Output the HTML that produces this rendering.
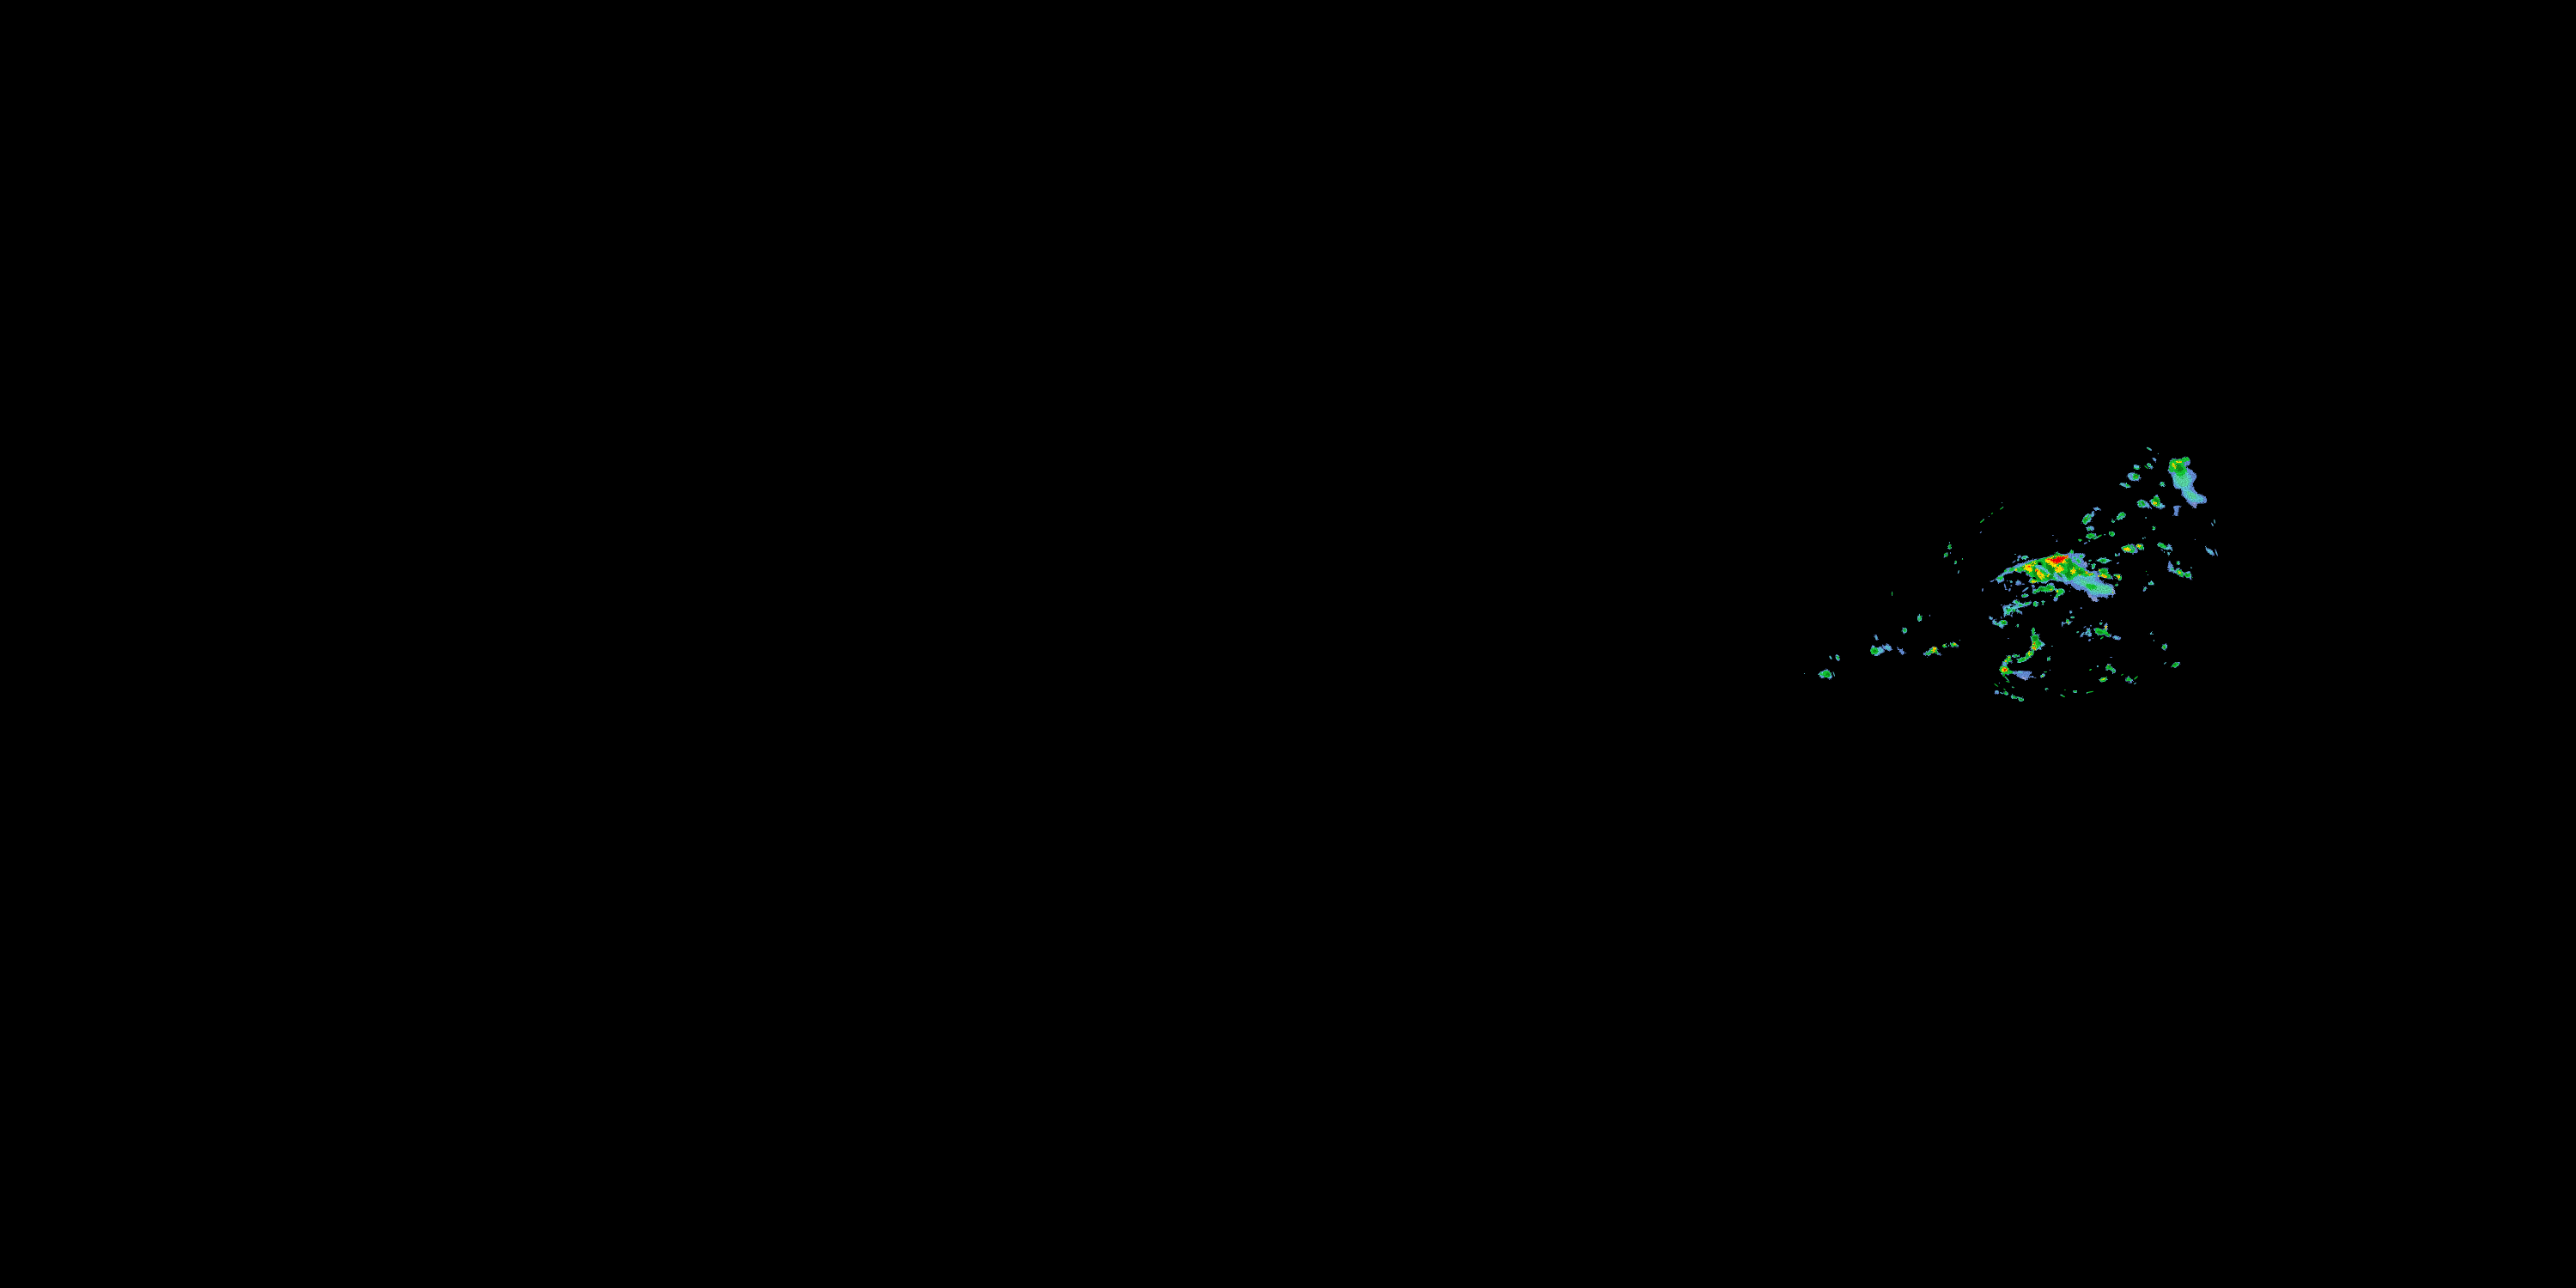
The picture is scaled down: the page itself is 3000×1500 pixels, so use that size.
<!DOCTYPE html>
<html><head><meta charset="utf-8"><title>Radar mosaic</title>
<style>
html,body{margin:0;padding:0;background:#000;width:3000px;height:1500px;overflow:hidden;font-family:"Liberation Sans",sans-serif;}
svg{display:block;position:absolute;left:0;top:0;}
</style></head><body>
<svg width="3000" height="1500" viewBox="0 0 3000 1500">
<defs>
<filter id="s" filterUnits="userSpaceOnUse" x="2070" y="495" width="560" height="345" color-interpolation-filters="sRGB">
<feTurbulence type="fractalNoise" baseFrequency="0.55" numOctaves="2" seed="7" result="n"/>
<feDisplacementMap in="SourceGraphic" in2="n" scale="3.2" xChannelSelector="R" yChannelSelector="G" result="d"/>
<feGaussianBlur in="d" stdDeviation="0.4"/>
</filter>
<filter id="t" filterUnits="userSpaceOnUse" x="2070" y="495" width="560" height="345" color-interpolation-filters="sRGB">
<feTurbulence type="fractalNoise" baseFrequency="0.7" numOctaves="2" seed="23" result="n"/>
<feDisplacementMap in="SourceGraphic" in2="n" scale="4.6" xChannelSelector="G" yChannelSelector="B" result="d"/>
<feGaussianBlur in="d" stdDeviation="0.4"/>
</filter>
<filter id="b" filterUnits="userSpaceOnUse" x="2070" y="495" width="560" height="345"><feGaussianBlur stdDeviation="0.3"/></filter>
<filter id="grain" filterUnits="userSpaceOnUse" x="2070" y="495" width="560" height="345" color-interpolation-filters="sRGB">
<feTurbulence type="fractalNoise" baseFrequency="0.8" numOctaves="1" seed="5" result="n"/>
<feColorMatrix in="n" type="matrix" values="0 1.6 0 0 -0.3  0 1.6 0 0 -0.3  0 1.6 0 0 -0.3  0 0 0 0 1" result="m"/>
<feComposite in="SourceGraphic" in2="m" operator="arithmetic" k1="0.5" k2="0.75" k3="0" k4="0"/>
</filter>
</defs>
<rect width="3000" height="1500" fill="#000"/>
<g filter="url(#grain)">
<g filter="url(#s)">
<path fill="#5f86cc" d="M2526.1 539.2C2526.6 538.1 2528.3 534.9 2530.1 534.2C2531.9 533.5 2535.1 535.0 2537.0 534.8C2538.8 534.7 2539.6 533.8 2541.3 533.3C2543.0 532.8 2545.6 531.2 2547.2 531.7C2548.8 532.3 2550.6 535.1 2550.9 536.7C2551.3 538.4 2550.4 540.6 2549.4 541.7C2548.4 542.7 2544.6 542.0 2545.0 542.9C2545.4 543.9 2549.7 545.5 2551.9 547.3C2554.0 549.0 2557.2 551.6 2558.1 553.5C2558.9 555.3 2557.6 556.9 2556.8 558.4C2556.1 560.0 2553.9 561.0 2553.7 562.8C2553.5 564.6 2554.7 567.1 2555.6 569.0C2556.5 570.9 2557.2 572.4 2559.3 574.0C2561.4 575.5 2566.2 576.9 2568.0 578.3C2569.8 579.8 2570.2 581.4 2570.2 582.7C2570.2 584.0 2569.8 585.5 2568.0 586.2C2566.2 586.9 2561.0 586.1 2559.3 586.8C2557.7 587.6 2558.6 589.7 2558.1 590.6C2557.6 591.4 2557.2 592.1 2556.2 591.8C2555.2 591.5 2553.4 589.8 2551.9 588.7C2550.3 587.6 2547.9 586.1 2546.9 585.0C2545.9 583.8 2546.9 583.2 2546.0 581.9C2545.0 580.5 2542.2 578.9 2541.3 577.1C2540.4 575.2 2541.1 572.1 2540.4 570.9C2539.6 569.6 2538.3 570.1 2537.0 569.6C2535.7 569.1 2533.6 568.9 2532.6 567.8C2531.6 566.6 2531.2 564.8 2530.7 562.8C2530.3 560.8 2531.2 558.3 2530.1 556.0C2529.1 553.6 2525.2 550.4 2524.5 548.5C2523.9 546.6 2526.3 545.5 2526.4 544.8C2526.5 544.1 2525.1 544.8 2525.2 544.2C2525.3 543.5 2526.9 541.9 2527.0 541.1C2527.2 540.2 2525.6 540.3 2526.1 539.2Z"/>
<path fill="#56bac8" d="M2531.1 552.9C2532.5 551.0 2537.3 550.9 2540.1 550.4C2542.8 549.9 2545.4 548.6 2547.5 549.8C2549.6 550.9 2551.9 554.9 2552.5 557.2C2553.1 559.5 2551.7 561.4 2551.2 563.4C2550.8 565.4 2549.2 567.1 2550.0 569.0C2550.8 570.9 2553.8 572.9 2556.2 574.6C2558.6 576.3 2562.6 577.6 2564.3 578.9C2565.9 580.3 2567.1 581.6 2566.1 582.7C2565.2 583.7 2561.1 584.9 2558.7 585.2C2556.3 585.4 2554.3 585.2 2551.9 583.9C2549.4 582.6 2545.5 579.6 2543.8 577.4C2542.1 575.2 2543.5 572.4 2541.8 570.6C2540.1 568.7 2535.6 567.9 2533.9 566.4C2532.1 564.9 2532.0 563.8 2531.5 561.6C2531.0 559.3 2529.6 554.7 2531.1 552.9Z"/>
<path fill="#54cc9c" d="M2533.9 553.5C2535.2 551.7 2541.9 551.4 2544.4 552.2C2546.9 553.1 2548.2 556.3 2548.8 558.4C2549.3 560.6 2548.7 563.9 2547.5 565.3C2546.4 566.7 2543.8 567.2 2541.9 566.8C2540.1 566.4 2537.7 565.0 2536.3 562.8C2535.0 560.6 2532.5 555.2 2533.9 553.5Z"/>
<path fill="#3cc878" d="M2536.3 552.9C2536.9 551.9 2541.0 551.4 2542.5 551.7C2544.0 552.0 2545.2 553.7 2545.3 554.7C2545.4 555.7 2544.2 557.4 2543.2 557.8C2542.2 558.2 2540.6 558.0 2539.4 557.2C2538.3 556.4 2535.8 553.8 2536.3 552.9Z"/>
<path fill="#54cc9c" d="M2546.9 572.1C2547.5 571.4 2551.2 573.6 2553.1 574.6C2555.0 575.6 2557.7 577.2 2558.1 578.3C2558.5 579.5 2557.0 581.3 2555.6 581.4C2554.1 581.5 2550.8 580.5 2549.4 578.9C2547.9 577.4 2546.3 572.8 2546.9 572.1Z"/>
<path fill="#12c030" d="M2526.4 539.2C2527.0 538.0 2529.0 535.5 2530.7 534.8C2532.5 534.2 2535.1 535.7 2537.0 535.5C2538.8 535.3 2540.3 534.1 2541.9 533.6C2543.6 533.1 2545.5 531.9 2546.9 532.4C2548.2 532.8 2550.2 535.3 2550.0 536.1C2549.8 536.9 2546.8 536.6 2545.7 537.3C2544.5 538.1 2543.2 539.2 2543.2 540.4C2543.2 541.7 2545.0 543.4 2545.7 544.8C2546.3 546.1 2547.3 547.3 2546.9 548.5C2546.5 549.8 2544.5 551.2 2543.2 552.2C2541.8 553.3 2540.2 554.7 2538.8 554.7C2537.5 554.7 2536.1 553.1 2535.1 552.2C2534.1 551.4 2534.1 550.5 2532.6 549.8C2531.1 549.0 2527.2 548.8 2526.1 548.0C2525.0 547.2 2526.0 545.7 2526.1 544.8C2526.3 543.8 2527.0 543.2 2527.0 542.3C2527.1 541.4 2525.8 540.4 2526.4 539.2Z"/>
<ellipse fill="#7a88c4" cx="2555.6" cy="587.6" rx="2.8" ry="3.4" transform="rotate(-30 2555.6 587.6)"/>
<ellipse fill="#5f86cc" cx="2509.3" cy="535.3" rx="2.8" ry="1.6" transform="rotate(42 2509.3 535.3)"/>
<ellipse fill="#56bac8" cx="2503.5" cy="542.3" rx="3.9" ry="2.2" transform="rotate(42 2503.5 542.3)"/>
<ellipse fill="#56bac8" cx="2488.0" cy="544.0" rx="3.9" ry="2.5" transform="rotate(30 2488.0 544.0)"/>
<ellipse fill="#5f86cc" cx="2485.1" cy="555.3" rx="7.8" ry="4.8" transform="rotate(15 2485.1 555.3)"/>
<ellipse fill="#56bac8" cx="2484.8" cy="555.2" rx="6.5" ry="3.9" transform="rotate(15 2484.8 555.2)"/>
<ellipse fill="#12c030" cx="2487.3" cy="554.8" rx="3.6" ry="3.2"/>
<ellipse fill="#56bac8" cx="2475.2" cy="565.2" rx="6.7" ry="2.1" transform="rotate(18 2475.2 565.2)"/>
<ellipse fill="#56bac8" cx="2518.3" cy="564.0" rx="3.0" ry="2.6" transform="rotate(40 2518.3 564.0)"/>
<path fill="#5f86cc" d="M2489.1 583.7C2490.1 582.8 2493.0 581.8 2494.7 581.9C2496.5 582.0 2497.8 582.7 2499.7 584.3C2501.6 586.0 2505.1 590.4 2505.9 591.8C2506.7 593.3 2505.7 593.3 2504.7 593.0C2503.6 592.8 2501.1 590.8 2499.7 590.6C2498.2 590.4 2497.4 591.8 2496.0 591.8C2494.5 591.8 2492.1 591.3 2491.0 590.6C2489.9 589.8 2489.4 588.6 2489.1 587.5C2488.8 586.3 2488.2 584.7 2489.1 583.7Z"/>
<path fill="#56bac8" d="M2489.8 584.3C2490.6 583.6 2493.2 582.4 2494.7 582.5C2496.3 582.6 2497.6 583.6 2499.1 585.0C2500.5 586.3 2503.3 589.8 2503.4 590.6C2503.5 591.3 2500.9 589.3 2499.7 589.3C2498.4 589.4 2497.4 590.8 2496.0 590.9C2494.6 591.0 2492.3 590.6 2491.3 589.9C2490.3 589.3 2490.0 588.1 2489.8 587.1C2489.5 586.2 2488.9 585.1 2489.8 584.3Z"/>
<path fill="#12c030" d="M2490.4 585.3C2491.0 584.2 2494.2 582.7 2495.7 583.1C2497.1 583.5 2499.0 586.4 2499.1 587.5C2499.2 588.5 2497.5 589.0 2496.3 589.3C2495.1 589.6 2492.7 590.0 2491.7 589.3C2490.8 588.6 2489.7 586.3 2490.4 585.3Z"/>
<path fill="#5f86cc" d="M2511.2 576.3C2512.3 576.2 2514.2 577.5 2514.9 578.8C2515.6 580.0 2514.0 582.0 2515.2 583.7C2516.4 585.5 2521.6 587.9 2522.0 589.3C2522.5 590.8 2519.4 592.1 2517.7 592.4C2516.0 592.7 2514.1 592.0 2512.1 591.2C2510.1 590.4 2507.2 588.9 2505.9 587.5C2504.6 586.0 2503.6 583.8 2504.0 582.5C2504.5 581.1 2507.2 580.4 2508.4 579.4C2509.6 578.3 2510.1 576.4 2511.2 576.3Z"/>
<path fill="#56bac8" d="M2510.9 577.5C2511.8 577.4 2513.6 578.2 2514.3 579.4C2515.0 580.5 2513.9 582.7 2514.9 584.3C2515.9 586.0 2519.8 588.1 2520.2 589.3C2520.5 590.5 2518.4 591.3 2517.1 591.5C2515.7 591.7 2513.9 591.3 2512.1 590.6C2510.3 589.8 2507.5 588.4 2506.2 587.1C2505.0 585.8 2504.2 584.0 2504.7 582.8C2505.1 581.6 2507.7 580.9 2508.7 580.0C2509.7 579.1 2509.9 577.6 2510.9 577.5Z"/>
<path fill="#12c030" d="M2505.9 583.1C2505.9 581.3 2508.2 579.3 2509.6 578.8C2511.0 578.2 2513.4 578.9 2514.3 580.0C2515.2 581.1 2514.9 584.0 2514.9 585.6C2514.9 587.1 2515.2 588.7 2514.3 589.3C2513.4 589.9 2511.0 590.4 2509.6 589.3C2508.2 588.3 2505.9 584.9 2505.9 583.1Z"/>
<path fill="#5f86cc" d="M2531.4 589.9C2532.4 588.9 2537.4 588.7 2538.8 589.0C2540.2 589.3 2539.9 591.2 2539.8 591.5C2539.6 591.8 2538.4 589.5 2537.9 590.7C2537.4 591.9 2537.4 596.9 2537.0 598.6C2536.5 600.3 2536.0 600.6 2535.1 600.8C2534.2 601.0 2531.8 600.8 2531.4 599.9C2531.0 599.0 2532.6 597.2 2532.6 595.5C2532.6 593.9 2530.3 591.0 2531.4 589.9Z"/>
<path fill="#56bac8" d="M2464.3 604.5C2464.6 603.3 2466.1 600.1 2467.4 598.6C2468.6 597.2 2470.3 595.9 2471.7 596.0C2473.1 596.1 2475.6 598.1 2475.8 599.3C2476.0 600.4 2474.7 602.0 2473.0 603.1C2471.3 604.2 2467.0 605.5 2465.5 605.8C2464.1 606.0 2464.0 605.7 2464.3 604.5Z"/>
<path fill="#12c030" d="M2465.2 604.5C2464.7 604.2 2467.5 601.1 2468.6 599.9C2469.8 598.6 2471.1 597.2 2472.0 597.1C2473.0 597.0 2474.6 598.4 2474.5 599.3C2474.5 600.1 2473.3 601.2 2471.7 602.0C2470.2 602.9 2465.7 604.9 2465.2 604.5Z"/>
<ellipse fill="#56bac8" cx="2460.6" cy="607.2" rx="2.2" ry="1.4" transform="rotate(40 2460.6 607.2)"/>
<ellipse fill="#56bac8" cx="2508.1" cy="615.1" rx="2.1" ry="2.4" transform="rotate(-25 2508.1 615.1)"/>
<ellipse fill="#12c030" cx="2507.9" cy="614.8" rx="1.4" ry="1.6" transform="rotate(-25 2507.9 614.8)"/>
<ellipse fill="#56bac8" cx="2459.4" cy="621.6" rx="3.6" ry="2.9" transform="rotate(25 2459.4 621.6)"/>
<ellipse fill="#12c030" cx="2459.2" cy="621.5" rx="2.9" ry="2.2" transform="rotate(25 2459.2 621.5)"/>
<path fill="#5f86cc" d="M2471.1 636.5C2472.2 635.8 2475.5 636.4 2477.3 635.9C2479.2 635.4 2480.8 633.3 2482.3 633.3C2483.7 633.3 2484.8 634.5 2486.0 635.9C2487.3 637.3 2489.3 640.1 2489.8 641.5C2490.2 642.8 2489.5 643.4 2488.5 644.0C2487.5 644.5 2485.0 644.8 2483.5 644.7C2482.1 644.6 2481.3 643.8 2479.8 643.5C2478.4 643.2 2476.3 643.4 2474.8 642.9C2473.4 642.3 2471.7 641.3 2471.1 640.2C2470.5 639.2 2470.1 637.2 2471.1 636.5Z"/>
<path fill="#12c030" d="M2471.4 636.8C2472.4 636.2 2475.5 636.8 2477.3 636.4C2479.1 636.0 2481.1 634.5 2482.3 634.7C2483.5 634.8 2484.1 636.0 2484.8 637.1C2485.5 638.3 2486.9 640.4 2486.6 641.5C2486.4 642.6 2484.7 643.5 2483.5 643.7C2482.4 643.9 2481.3 643.0 2479.8 642.7C2478.4 642.5 2476.2 642.7 2474.8 642.2C2473.5 641.8 2472.2 640.8 2471.6 639.9C2471.0 639.0 2470.5 637.4 2471.4 636.8Z"/>
<ellipse fill="#5f86cc" cx="2487.3" cy="642.1" rx="1.9" ry="1.6"/>
<path fill="#56bac8" d="M2487.3 634.7C2487.8 633.9 2490.1 633.1 2491.6 633.3C2493.2 633.5 2495.7 634.8 2496.6 635.9C2497.4 637.0 2497.2 638.9 2496.7 639.6C2496.2 640.4 2494.8 640.7 2493.5 640.4C2492.1 640.1 2489.5 638.8 2488.5 637.9C2487.5 636.9 2486.7 635.4 2487.3 634.7Z"/>
<path fill="#12c030" d="M2488.0 635.0C2488.4 634.3 2490.3 633.7 2491.6 633.9C2492.9 634.1 2495.1 635.4 2495.8 636.2C2496.5 637.1 2496.2 638.4 2495.8 639.0C2495.4 639.6 2494.6 639.9 2493.5 639.6C2492.4 639.4 2490.0 638.4 2489.1 637.6C2488.2 636.9 2487.6 635.6 2488.0 635.0Z"/>
<path fill="#56bac8" d="M2513.0 634.7C2513.0 633.9 2513.4 632.4 2514.6 632.2C2515.8 632.0 2518.6 632.6 2520.2 633.4C2521.7 634.2 2523.0 637.2 2523.9 637.1C2524.8 637.1 2524.6 633.3 2525.5 633.3C2526.3 633.3 2528.1 635.8 2528.9 637.1C2529.7 638.5 2530.4 641.2 2530.1 641.6C2529.8 642.0 2528.1 639.8 2527.0 639.6C2526.0 639.4 2525.4 640.6 2523.9 640.4C2522.5 640.2 2519.9 639.1 2518.3 638.5C2516.8 637.9 2515.5 637.3 2514.6 636.6C2513.7 636.0 2513.0 635.4 2513.0 634.7Z"/>
<path fill="#12c030" d="M2514.0 634.7C2514.1 634.2 2514.7 633.3 2515.8 633.3C2517.0 633.3 2519.6 633.8 2520.8 634.5C2522.0 635.3 2523.4 637.3 2523.0 637.8C2522.6 638.3 2519.6 637.7 2518.3 637.5C2517.0 637.2 2515.9 636.7 2515.2 636.2C2514.5 635.7 2513.9 635.1 2514.0 634.7Z"/>
<ellipse fill="#5f86cc" cx="2527.0" cy="637.1" rx="1.4" ry="3.4" transform="rotate(-25 2527.0 637.1)"/>
<ellipse fill="#56bac8" cx="2525.5" cy="644.6" rx="1.4" ry="2.0" transform="rotate(-25 2525.5 644.6)"/>
<ellipse fill="#56bac8" cx="2464.6" cy="646.5" rx="1.5" ry="1.5"/>
<path fill="#5f86cc" d="M2568.9 636.2C2569.2 635.9 2569.9 638.4 2570.8 639.0C2571.7 639.6 2573.0 638.9 2574.2 639.6C2575.4 640.4 2577.2 642.1 2578.0 643.4C2578.7 644.6 2579.3 646.6 2578.7 647.0C2578.1 647.3 2575.8 646.2 2574.2 645.2C2572.7 644.2 2570.1 642.4 2569.3 640.9C2568.4 639.4 2568.7 636.5 2568.9 636.2Z"/>
<path fill="#56bac8" d="M2569.3 636.8C2569.4 636.7 2570.0 639.0 2570.8 639.6C2571.6 640.2 2573.2 639.9 2574.2 640.6C2575.3 641.2 2576.6 642.8 2577.0 643.7C2577.4 644.5 2577.3 645.4 2576.7 645.5C2576.1 645.6 2574.7 645.1 2573.6 644.3C2572.5 643.5 2570.6 641.8 2569.9 640.6C2569.2 639.3 2569.1 637.0 2569.3 636.8Z"/>
<path fill="#5f86cc" d="M2317.9 676.9C2318.5 676.3 2321.7 675.2 2323.2 674.2C2324.7 673.2 2325.5 672.1 2327.2 670.9C2328.8 669.7 2331.6 668.4 2333.1 667.0C2334.6 665.5 2334.5 663.5 2336.4 662.3C2338.3 661.1 2341.9 660.7 2344.3 659.7C2346.7 658.7 2348.9 657.1 2350.9 656.4C2352.9 655.7 2354.7 656.2 2356.2 655.7C2357.7 655.3 2358.0 654.5 2360.2 653.8C2362.4 653.0 2366.8 651.7 2369.4 651.1C2372.0 650.6 2373.9 650.8 2376.0 650.5C2378.1 650.1 2380.0 649.7 2381.9 649.1C2383.9 648.6 2386.2 647.7 2387.9 647.2C2389.5 646.6 2390.7 646.6 2391.8 645.8C2392.9 645.1 2393.4 643.1 2394.5 642.9C2395.6 642.6 2396.7 643.8 2398.4 644.2C2400.2 644.6 2403.1 645.3 2405.0 645.2C2407.0 645.0 2409.2 643.9 2410.3 643.2C2411.5 642.5 2411.2 641.0 2412.0 640.9C2412.7 640.8 2414.3 642.0 2414.9 642.5C2415.5 643.1 2414.4 643.9 2415.6 644.2C2416.8 644.5 2420.5 644.2 2422.2 644.2C2423.8 644.2 2424.4 643.8 2425.5 644.2C2426.6 644.6 2428.6 645.7 2428.8 646.5C2429.0 647.3 2427.4 648.4 2426.8 649.1C2426.3 649.9 2425.3 650.2 2425.5 651.1C2425.7 652.0 2427.2 653.5 2428.1 654.4C2429.0 655.3 2430.2 655.5 2430.8 656.4C2431.3 657.3 2431.8 658.9 2431.4 659.7C2431.1 660.5 2428.8 660.2 2428.8 661.0C2428.8 661.8 2430.3 663.5 2431.4 664.3C2432.5 665.1 2434.1 665.6 2435.4 665.6C2436.7 665.6 2438.2 664.3 2439.3 664.3C2440.4 664.3 2441.2 664.9 2442.0 665.6C2442.8 666.4 2443.3 667.4 2444.0 668.9C2444.6 670.5 2444.8 673.7 2445.9 674.9C2447.0 676.1 2450.1 675.5 2450.6 676.2C2451.0 676.9 2447.3 678.2 2448.6 678.8C2449.9 679.5 2456.4 679.5 2458.5 680.2C2460.6 680.8 2460.4 681.5 2461.1 682.8C2461.9 684.1 2462.9 686.4 2463.1 688.1C2463.3 689.7 2463.8 691.8 2462.4 692.7C2461.1 693.6 2456.5 692.7 2455.2 693.4C2453.9 694.0 2455.6 696.3 2454.5 696.7C2453.4 697.0 2450.7 695.4 2448.6 695.3C2446.5 695.2 2442.6 695.2 2442.0 696.0C2441.3 696.8 2444.8 699.1 2444.6 700.0C2444.4 700.8 2442.1 701.3 2440.7 700.9C2439.2 700.6 2437.8 699.7 2436.0 698.0C2434.3 696.3 2431.8 692.6 2430.1 690.7C2428.5 688.8 2427.7 687.2 2426.1 686.8C2424.6 686.3 2422.6 688.4 2420.9 688.1C2419.1 687.7 2417.3 686.1 2415.6 684.8C2413.8 683.5 2412.0 680.8 2410.3 680.2C2408.7 679.5 2407.2 681.5 2405.7 680.8C2404.2 680.2 2402.5 676.7 2401.1 676.2C2399.6 675.6 2398.4 677.5 2397.1 677.5C2395.8 677.5 2394.7 676.5 2393.2 676.2C2391.6 675.9 2389.4 675.1 2387.9 675.5C2386.3 676.0 2385.2 678.2 2383.9 678.8C2382.6 679.5 2381.7 679.5 2380.0 679.5C2378.2 679.5 2375.6 678.8 2373.4 678.8C2371.2 678.8 2368.5 679.7 2366.8 679.5C2365.0 679.3 2363.1 678.7 2362.8 677.5C2362.5 676.3 2364.9 673.4 2364.8 672.2C2364.7 671.0 2362.9 670.9 2362.1 670.3C2361.4 669.6 2361.1 669.0 2360.2 668.3C2359.2 667.5 2357.5 665.7 2356.2 665.6C2354.9 665.5 2353.8 667.6 2352.2 667.6C2350.7 667.6 2348.7 665.6 2347.0 665.6C2345.2 665.6 2343.4 667.1 2341.7 667.6C2339.9 668.2 2337.8 668.4 2336.4 668.9C2335.0 669.5 2333.4 669.8 2333.1 670.9C2332.8 672.0 2334.6 674.4 2334.4 675.5C2334.2 676.6 2333.0 677.0 2331.8 677.5C2330.6 678.1 2328.4 679.2 2327.2 678.8C2325.9 678.5 2325.7 675.7 2324.5 675.5C2323.3 675.4 2321.0 677.6 2319.9 677.8C2318.8 678.1 2317.4 677.5 2317.9 676.9Z"/>
<path fill="#56bac8" d="M2325.2 674.9C2325.3 673.7 2327.9 671.8 2329.8 670.3C2331.7 668.7 2334.0 667.1 2336.4 665.6C2338.8 664.2 2341.7 662.9 2344.3 661.7C2347.0 660.5 2349.6 659.4 2352.2 658.4C2354.9 657.4 2357.3 656.7 2360.2 655.7C2363.0 654.7 2365.9 653.4 2369.4 652.4C2372.9 651.4 2377.5 650.7 2381.3 649.8C2385.0 648.9 2389.5 648.1 2391.8 647.2C2394.1 646.2 2394.0 644.2 2395.1 643.9C2396.2 643.5 2396.8 644.7 2398.4 645.2C2400.1 645.6 2403.4 645.8 2405.0 646.5C2406.6 647.2 2406.8 648.9 2408.0 649.5C2409.2 650.1 2411.1 649.2 2412.0 650.1C2412.8 651.0 2412.4 653.8 2413.3 654.7C2414.2 655.7 2415.7 655.2 2417.2 656.1C2418.8 656.9 2421.0 659.1 2422.5 660.0C2424.1 660.9 2425.4 660.5 2426.5 661.3C2427.5 662.2 2427.5 664.0 2428.8 665.0C2430.1 665.9 2432.4 666.6 2434.1 667.0C2435.7 667.3 2437.5 666.3 2438.7 667.0C2439.9 667.6 2441.2 669.6 2441.3 670.9C2441.4 672.2 2438.7 673.6 2439.3 674.9C2440.0 676.2 2442.6 677.7 2445.3 678.8C2447.9 679.9 2452.8 680.5 2455.2 681.5C2457.6 682.5 2458.9 683.3 2459.8 684.8C2460.7 686.2 2461.5 688.8 2460.5 690.1C2459.5 691.3 2456.4 691.7 2453.9 692.0C2451.3 692.4 2447.8 691.9 2445.3 692.0C2442.8 692.1 2440.4 692.9 2438.7 692.7C2436.9 692.5 2435.9 691.7 2434.7 690.7C2433.5 689.7 2432.6 688.0 2431.4 686.8C2430.2 685.5 2429.1 684.2 2427.5 683.5C2425.8 682.7 2423.4 682.9 2421.5 682.1C2419.7 681.4 2417.9 679.9 2416.2 678.8C2414.6 677.7 2413.3 676.0 2411.6 675.5C2410.0 675.1 2408.0 676.6 2406.4 676.2C2404.7 675.8 2403.3 672.9 2401.7 672.9C2400.2 672.9 2398.8 675.8 2397.1 676.2C2395.5 676.6 2393.4 675.9 2391.8 675.5C2390.3 675.2 2389.3 673.9 2387.9 674.2C2386.4 674.5 2384.7 676.8 2383.3 677.5C2381.8 678.2 2380.9 678.5 2379.3 678.5C2377.6 678.6 2375.3 677.8 2373.4 677.8C2371.4 677.9 2369.0 678.9 2367.4 678.8C2365.9 678.7 2364.3 678.2 2364.1 677.2C2363.9 676.1 2366.3 673.8 2366.1 672.6C2365.9 671.3 2363.8 670.5 2362.8 669.6C2361.8 668.7 2361.3 667.8 2360.2 667.0C2359.1 666.1 2357.5 664.4 2356.2 664.3C2354.9 664.2 2353.8 666.3 2352.2 666.3C2350.7 666.3 2348.8 664.3 2347.0 664.3C2345.1 664.3 2342.8 665.7 2341.0 666.3C2339.3 666.8 2337.8 667.1 2336.4 667.6C2335.0 668.2 2333.1 668.4 2332.4 669.6C2331.8 670.8 2333.0 673.6 2332.4 674.9C2331.9 676.2 2330.3 677.5 2329.1 677.5C2327.9 677.5 2325.1 676.1 2325.2 674.9Z"/>
<path fill="#54cc9c" d="M2422.2 674.9C2423.1 674.4 2426.6 675.4 2428.8 676.2C2431.0 677.0 2433.2 678.6 2435.4 679.5C2437.6 680.4 2439.2 681.0 2442.0 681.5C2444.7 681.9 2449.2 681.6 2451.9 682.1C2454.5 682.7 2456.8 683.6 2457.8 684.8C2458.8 685.9 2458.5 688.1 2457.8 689.1C2457.2 690.1 2456.0 690.5 2453.9 690.7C2451.8 690.9 2447.8 690.5 2445.3 690.2C2442.8 689.9 2440.9 689.8 2438.7 689.1C2436.5 688.3 2434.0 686.9 2432.1 685.8C2430.2 684.7 2428.9 683.6 2427.5 682.5C2426.0 681.3 2424.4 680.1 2423.5 678.8C2422.6 677.6 2421.3 675.3 2422.2 674.9Z"/>
<path fill="#12c030" d="M2429.4 680.2C2430.8 679.7 2436.5 680.4 2438.7 681.1C2440.9 681.9 2443.2 683.9 2442.6 684.8C2442.1 685.7 2437.4 686.6 2435.4 686.4C2433.4 686.3 2431.8 684.8 2430.8 683.8C2429.8 682.7 2428.1 680.6 2429.4 680.2Z"/>
<ellipse fill="#8c98c8" cx="2439.3" cy="698.0" rx="3.0" ry="2.6"/>
<ellipse fill="#8c98c8" cx="2461.1" cy="688.7" rx="1.6" ry="4.0"/>
<ellipse fill="#8c98c8" cx="2428.8" cy="656.4" rx="1.6" ry="2.6"/>
<ellipse fill="#8c98c8" cx="2434.1" cy="694.3" rx="2.3" ry="2.0" transform="rotate(40 2434.1 694.3)"/>
<path fill="#12c030" d="M2347.0 663.0C2347.6 661.8 2353.6 660.4 2356.2 659.0C2358.8 657.7 2360.6 656.2 2362.8 655.1C2365.0 654.0 2366.3 653.3 2369.4 652.4C2372.5 651.6 2377.5 650.8 2381.3 649.8C2385.0 648.8 2389.5 647.6 2391.8 646.5C2394.1 645.4 2394.0 643.4 2395.1 643.2C2396.2 643.0 2396.8 644.5 2398.4 645.2C2400.1 645.8 2403.5 646.4 2405.0 647.2C2406.6 647.9 2406.6 649.2 2407.7 649.8C2408.8 650.3 2410.8 649.6 2411.6 650.5C2412.5 651.3 2412.1 654.1 2413.0 655.1C2413.8 656.1 2415.4 655.5 2416.9 656.4C2418.4 657.3 2420.6 659.5 2422.2 660.4C2423.7 661.2 2425.0 661.0 2426.1 661.7C2427.2 662.3 2427.7 663.4 2428.8 664.3C2429.9 665.2 2431.1 666.3 2432.7 667.0C2434.4 667.6 2438.2 667.6 2438.7 668.3C2439.1 668.9 2437.3 670.5 2435.4 670.9C2433.5 671.4 2429.7 671.1 2427.5 670.9C2425.3 670.7 2424.2 669.4 2422.2 669.6C2420.2 669.8 2417.3 671.1 2415.6 672.2C2413.8 673.3 2413.0 675.8 2411.6 676.2C2410.3 676.6 2409.0 675.5 2407.7 674.9C2406.4 674.2 2405.3 672.1 2403.7 672.2C2402.2 672.3 2400.2 675.0 2398.4 675.5C2396.7 676.1 2394.7 675.9 2393.2 675.5C2391.6 675.2 2390.7 673.4 2389.2 673.6C2387.7 673.7 2385.5 675.5 2383.9 676.2C2382.4 676.9 2381.7 677.3 2380.0 677.5C2378.2 677.7 2375.3 677.3 2373.4 677.5C2371.4 677.7 2369.6 678.8 2368.1 678.8C2366.5 678.8 2364.3 678.5 2364.1 677.5C2363.9 676.5 2367.0 674.2 2366.8 672.9C2366.5 671.6 2363.9 670.6 2362.8 669.6C2361.7 668.6 2361.3 667.8 2360.2 667.0C2359.1 666.1 2357.5 664.4 2356.2 664.3C2354.9 664.2 2353.8 666.5 2352.2 666.3C2350.7 666.1 2346.3 664.2 2347.0 663.0Z"/>
<ellipse fill="#56bac8" cx="2412.8" cy="642.9" rx="2.4" ry="2.2"/>
<ellipse fill="#12c030" cx="2412.8" cy="642.9" rx="1.6" ry="1.6" transform="rotate(20 2412.8 642.9)"/>
<ellipse fill="#56bac8" cx="2423.7" cy="648.0" rx="2.9" ry="2.6"/>
<ellipse fill="#12c030" cx="2423.7" cy="648.0" rx="2.0" ry="1.8"/>
<ellipse fill="#56bac8" cx="2420.3" cy="653.2" rx="3.8" ry="2.6" transform="rotate(40 2420.3 653.2)"/>
<ellipse fill="#12c030" cx="2420.2" cy="653.4" rx="2.8" ry="1.7" transform="rotate(40 2420.2 653.4)"/>
<ellipse fill="#56bac8" cx="2415.6" cy="649.8" rx="2.6" ry="2.0"/>
<path fill="#56bac8" d="M2391.8 667.3C2392.4 666.2 2393.8 665.6 2395.8 666.0C2397.8 666.4 2401.5 667.9 2403.7 669.6C2405.9 671.3 2409.2 674.9 2409.0 676.2C2408.8 677.5 2404.4 677.6 2402.4 677.6C2400.4 677.7 2398.8 677.2 2397.1 676.3C2395.5 675.4 2393.4 673.9 2392.5 672.4C2391.6 670.9 2391.3 668.4 2391.8 667.3Z"/>
<path fill="#5f86cc" d="M2395.1 669.6C2395.4 668.9 2397.0 668.7 2398.4 669.6C2399.9 670.5 2403.3 673.8 2403.7 674.9C2404.2 676.0 2402.2 676.4 2401.1 676.2C2400.0 676.0 2398.1 674.7 2397.1 673.6C2396.1 672.5 2394.9 670.3 2395.1 669.6Z"/>
<ellipse fill="#12c030" cx="2343.0" cy="663.0" rx="4.0" ry="1.6" transform="rotate(-30 2343.0 663.0)"/>
<ellipse fill="#12c030" cx="2330.5" cy="672.9" rx="2.6" ry="1.8" transform="rotate(-30 2330.5 672.9)"/>
<path fill="#56bac8" d="M2369.4 659.0C2370.2 658.4 2374.2 657.7 2376.0 658.0C2377.8 658.4 2378.0 659.7 2380.0 661.0C2381.9 662.3 2385.3 664.4 2387.9 666.0C2390.4 667.5 2394.3 669.3 2395.1 670.3C2396.0 671.2 2394.4 672.2 2392.8 671.9C2391.3 671.6 2388.3 669.9 2385.9 668.6C2383.5 667.3 2381.1 665.1 2378.6 664.0C2376.2 662.9 2372.9 662.6 2371.4 661.8C2369.8 661.0 2368.6 659.7 2369.4 659.0Z"/>
<ellipse fill="#000" cx="2376.0" cy="656.5" rx="3.0" ry="1.7" transform="rotate(5 2376.0 656.5)"/>
<ellipse fill="#000" cx="2369.5" cy="673.3" rx="2.6" ry="1.3" transform="rotate(10 2369.5 673.3)"/>
<path fill="#56bac8" d="M2441.3 653.1C2441.2 652.4 2443.9 651.2 2445.3 650.5C2446.7 649.7 2448.5 648.7 2449.9 648.8C2451.3 648.9 2452.2 650.4 2453.9 651.1C2455.5 651.8 2459.6 652.5 2459.8 653.1C2460.0 653.7 2456.7 654.0 2455.2 654.5C2453.6 655.1 2452.1 656.5 2450.6 656.5C2449.0 656.5 2447.5 655.1 2445.9 654.5C2444.4 654.0 2441.4 653.8 2441.3 653.1Z"/>
<path fill="#12c030" d="M2444.6 652.8C2445.2 652.2 2448.5 650.8 2449.9 650.8C2451.3 650.7 2453.1 651.7 2453.2 652.4C2453.3 653.2 2451.7 654.8 2450.6 655.1C2449.5 655.4 2447.6 654.5 2446.6 654.1C2445.6 653.7 2444.1 653.3 2444.6 652.8Z"/>
<ellipse fill="#56bac8" cx="2464.8" cy="646.4" rx="1.7" ry="1.6"/>
<ellipse fill="#56bac8" cx="2438.0" cy="659.2" rx="2.2" ry="3.4" transform="rotate(10 2438.0 659.2)"/>
<path fill="#5f86cc" d="M2443.3 664.3C2444.0 663.3 2446.7 661.9 2448.6 661.5C2450.5 661.2 2453.4 661.3 2454.5 662.2C2455.6 663.1 2454.4 665.5 2455.3 667.0C2456.2 668.4 2459.3 669.7 2459.9 670.9C2460.6 672.1 2460.3 673.9 2459.3 674.3C2458.3 674.8 2455.6 674.0 2453.9 673.7C2452.1 673.4 2450.3 672.7 2448.6 672.4C2446.8 672.0 2444.0 672.5 2443.3 671.7C2442.6 670.9 2444.6 668.8 2444.6 667.6C2444.6 666.4 2442.6 665.3 2443.3 664.3Z"/>
<path fill="#12c030" d="M2444.3 664.4C2444.7 663.6 2447.0 662.6 2448.6 662.3C2450.2 662.1 2452.9 662.1 2453.9 662.9C2454.9 663.6 2453.7 665.6 2454.5 667.0C2455.4 668.3 2458.2 669.9 2458.8 671.0C2459.4 672.1 2459.0 673.2 2458.2 673.6C2457.3 673.9 2455.5 673.2 2453.9 672.9C2452.3 672.6 2450.1 671.9 2448.6 671.6C2447.0 671.3 2445.1 671.7 2444.6 671.0C2444.2 670.4 2446.0 668.7 2445.9 667.6C2445.9 666.5 2443.9 665.3 2444.3 664.4Z"/>
<path fill="#56bac8" d="M2461.1 669.6C2461.6 668.8 2466.6 668.3 2468.4 668.8C2470.1 669.4 2471.7 671.6 2471.7 672.9C2471.7 674.1 2469.5 676.2 2468.5 676.3C2467.5 676.5 2467.0 674.8 2465.7 673.7C2464.5 672.6 2460.7 670.4 2461.1 669.6Z"/>
<path fill="#12c030" d="M2462.1 669.9C2462.5 669.4 2466.6 669.0 2468.1 669.5C2469.5 670.0 2470.8 671.9 2470.9 672.9C2470.9 673.9 2469.2 675.5 2468.4 675.5C2467.5 675.5 2466.9 673.8 2465.9 672.9C2464.8 672.0 2461.8 670.5 2462.1 669.9Z"/>
<ellipse fill="#56bac8" cx="2465.1" cy="681.1" rx="2.0" ry="1.7"/>
<ellipse fill="#56bac8" cx="2342.3" cy="677.6" rx="1.5" ry="1.6"/>
<ellipse fill="#5f86cc" cx="2350.9" cy="679.0" rx="3.4" ry="2.6" transform="rotate(-20 2350.9 679.0)"/>
<ellipse fill="#5f86cc" cx="2358.5" cy="693.4" rx="4.5" ry="2.5" transform="rotate(-10 2358.5 693.4)"/>
<ellipse fill="#56bac8" cx="2358.5" cy="693.5" rx="3.6" ry="1.8" transform="rotate(-10 2358.5 693.5)"/>
<ellipse fill="#12c030" cx="2357.5" cy="693.9" rx="2.4" ry="1.3" transform="rotate(-10 2357.5 693.9)"/>
<ellipse fill="#5f86cc" cx="2368.1" cy="682.8" rx="2.0" ry="2.0"/>
<ellipse fill="#5f86cc" cx="2369.4" cy="686.8" rx="2.6" ry="1.6"/>
<path fill="#56bac8" d="M2366.8 689.4C2367.3 688.4 2371.2 686.9 2372.7 685.8C2374.2 684.6 2374.3 683.0 2376.0 682.5C2377.6 682.0 2380.9 683.3 2382.6 682.8C2384.2 682.3 2384.4 679.7 2385.9 679.5C2387.4 679.3 2390.2 680.7 2391.5 681.8C2392.8 682.9 2393.8 684.9 2393.5 686.1C2393.2 687.3 2391.3 688.5 2389.5 689.1C2387.7 689.7 2384.8 689.8 2382.6 689.7C2380.3 689.7 2378.2 688.4 2376.0 688.7C2373.8 689.1 2370.9 691.6 2369.4 691.7C2367.9 691.8 2366.2 690.4 2366.8 689.4Z"/>
<path fill="#12c030" d="M2368.4 689.1C2369.0 688.3 2372.0 687.4 2373.4 686.4C2374.7 685.5 2375.1 683.9 2376.7 683.5C2378.2 683.0 2381.1 684.2 2382.6 683.8C2384.1 683.3 2384.6 681.0 2385.9 680.8C2387.2 680.6 2389.5 681.6 2390.5 682.5C2391.6 683.3 2392.4 685.2 2392.2 686.1C2391.9 687.0 2390.5 687.6 2388.9 688.1C2387.3 688.5 2384.7 688.8 2382.6 688.7C2380.4 688.7 2378.1 687.4 2376.0 687.7C2373.9 688.1 2371.3 690.5 2370.1 690.7C2368.8 690.9 2367.9 689.8 2368.4 689.1Z"/>
<path fill="#56bac8" d="M2392.8 686.8C2394.0 685.9 2400.4 685.2 2402.4 685.8C2404.4 686.3 2405.3 688.9 2404.7 690.2C2404.1 691.5 2400.2 692.5 2398.8 693.7C2397.3 694.9 2396.3 696.2 2395.8 697.3C2395.2 698.5 2396.1 700.8 2395.5 700.6C2394.8 700.4 2391.8 697.6 2391.8 696.0C2391.8 694.4 2395.3 692.6 2395.5 691.0C2395.6 689.5 2391.7 687.6 2392.8 686.8Z"/>
<path fill="#12c030" d="M2394.1 687.3C2395.0 686.6 2400.2 686.2 2401.7 686.6C2403.3 687.1 2404.0 688.9 2403.4 689.9C2402.8 691.0 2399.4 691.8 2398.1 692.8C2396.8 693.8 2396.5 695.6 2395.8 696.0C2395.1 696.4 2393.7 695.9 2393.8 695.0C2393.9 694.1 2396.4 692.0 2396.5 690.7C2396.5 689.4 2393.3 688.0 2394.1 687.3Z"/>
<ellipse fill="#5f86cc" cx="2393.8" cy="698.0" rx="2.0" ry="2.6" transform="rotate(30 2393.8 698.0)"/>
<ellipse fill="#5f86cc" cx="2389.2" cy="680.2" rx="2.6" ry="1.6"/>
<path fill="#5f86cc" d="M2343.0 701.3C2343.4 700.5 2346.6 697.7 2348.3 697.8C2349.9 698.0 2350.9 701.4 2352.9 701.9C2354.9 702.5 2358.0 701.5 2360.2 701.3C2362.3 701.0 2364.8 700.1 2365.6 700.5C2366.4 700.8 2366.5 702.4 2364.9 703.4C2363.3 704.4 2358.5 706.4 2356.2 706.7C2353.9 707.0 2352.7 706.0 2350.9 705.4C2349.2 704.7 2347.0 703.4 2345.6 702.7C2344.3 702.0 2342.6 702.1 2343.0 701.3Z"/>
<path fill="#56bac8" d="M2344.3 701.3C2343.8 700.3 2346.8 698.7 2348.3 699.0C2349.7 699.2 2350.9 702.1 2352.9 702.6C2354.9 703.1 2358.2 702.1 2360.2 701.9C2362.1 701.7 2363.8 701.2 2364.4 701.4C2365.0 701.6 2365.2 702.2 2363.8 702.9C2362.4 703.7 2358.3 705.6 2356.2 705.9C2354.1 706.2 2353.2 705.3 2351.2 704.6C2349.3 703.8 2344.8 702.2 2344.3 701.3Z"/>
<ellipse fill="#12c030" cx="2348.9" cy="700.9" rx="2.0" ry="1.5" transform="rotate(30 2348.9 700.9)"/>
<ellipse fill="#56bac8" cx="2370.7" cy="703.3" rx="3.0" ry="3.4"/>
<ellipse fill="#12c030" cx="2370.4" cy="703.3" rx="2.1" ry="2.6"/>
<ellipse fill="#56bac8" cx="2379.4" cy="701.9" rx="1.5" ry="2.8"/>
<ellipse fill="#5f86cc" cx="2351.6" cy="648.5" rx="1.5" ry="2.6" transform="rotate(25 2351.6 648.5)"/>
<ellipse fill="#56bac8" cx="2358.2" cy="649.1" rx="3.8" ry="2.1" transform="rotate(-10 2358.2 649.1)"/>
<path fill="#56bac8" d="M2471.0 637.3C2471.8 636.4 2474.8 635.8 2476.3 635.3C2477.8 634.7 2479.1 633.5 2480.0 634.0C2480.9 634.4 2481.5 636.6 2481.6 637.9C2481.6 639.2 2481.3 641.1 2480.3 641.9C2479.3 642.6 2477.1 642.8 2475.6 642.5C2474.2 642.3 2472.5 641.4 2471.7 640.6C2470.9 639.7 2470.3 638.1 2471.0 637.3Z"/>
<path fill="#12c030" d="M2471.7 637.6C2472.3 636.9 2474.9 636.5 2476.3 636.1C2477.7 635.6 2479.5 634.5 2480.3 634.9C2481.0 635.4 2481.0 637.5 2480.9 638.6C2480.8 639.6 2480.5 640.7 2479.6 641.2C2478.7 641.7 2476.9 641.9 2475.6 641.7C2474.4 641.5 2473.0 640.7 2472.3 640.0C2471.7 639.3 2471.0 638.2 2471.7 637.6Z"/>
<path fill="#5f86cc" d="M2526.1 653.1C2526.7 653.2 2528.0 655.4 2528.9 656.8C2529.8 658.3 2530.6 660.6 2531.4 661.8C2532.1 663.0 2532.4 664.4 2533.2 664.3C2534.1 664.2 2535.4 661.5 2536.3 661.2C2537.3 660.9 2537.9 661.7 2538.8 662.4C2539.8 663.1 2541.0 664.8 2541.9 665.5C2542.9 666.3 2543.2 666.9 2544.4 666.8C2545.7 666.7 2548.1 664.7 2549.4 664.9C2550.6 665.1 2551.4 666.2 2551.9 668.0C2552.3 669.8 2552.6 674.8 2552.2 675.6C2551.8 676.4 2550.3 673.4 2549.4 673.0C2548.5 672.6 2547.8 673.5 2546.9 673.1C2546.0 672.7 2544.7 670.7 2543.8 670.5C2542.9 670.3 2542.4 672.4 2541.3 672.2C2540.2 672.0 2538.5 670.3 2537.0 669.4C2535.4 668.5 2533.6 667.5 2532.0 666.9C2530.3 666.3 2528.2 666.4 2527.0 665.7C2525.8 664.9 2525.2 664.0 2524.8 662.4C2524.5 660.8 2524.9 657.8 2525.2 656.2C2525.4 654.7 2525.5 653.0 2526.1 653.1Z"/>
<path fill="#56bac8" d="M2527.6 659.3C2528.0 658.9 2529.8 661.4 2530.7 662.4C2531.7 663.4 2532.2 665.2 2533.2 665.2C2534.2 665.2 2535.7 662.7 2536.6 662.4C2537.6 662.1 2537.9 662.7 2538.8 663.4C2539.7 664.0 2541.0 665.6 2541.9 666.3C2542.9 667.0 2543.2 667.5 2544.4 667.5C2545.6 667.5 2547.9 666.1 2549.1 666.3C2550.2 666.5 2550.9 667.4 2551.2 668.6C2551.6 669.9 2551.6 673.1 2551.2 673.6C2550.9 674.1 2550.1 671.9 2549.4 671.7C2548.7 671.5 2547.8 672.7 2546.9 672.4C2546.0 672.0 2544.7 670.0 2543.8 669.9C2542.9 669.7 2542.4 671.6 2541.3 671.4C2540.2 671.2 2538.5 669.5 2537.0 668.6C2535.4 667.8 2533.4 666.9 2532.0 666.3C2530.6 665.7 2529.1 666.1 2528.4 664.9C2527.7 663.7 2527.2 659.7 2527.6 659.3Z"/>
<path fill="#12c030" d="M2534.5 666.1C2534.6 665.2 2536.4 663.2 2537.6 663.2C2538.7 663.2 2540.5 665.0 2541.3 666.1C2542.1 667.3 2542.6 668.9 2542.5 669.9C2542.5 670.8 2541.7 671.9 2540.8 671.7C2539.9 671.5 2538.0 669.6 2537.0 668.6C2535.9 667.7 2534.4 667.1 2534.5 666.1Z"/>
<path fill="#12c030" d="M2544.4 668.6C2544.9 667.9 2547.6 667.4 2548.8 667.4C2549.9 667.4 2551.0 667.9 2551.2 668.6C2551.4 669.4 2550.9 671.2 2550.0 671.7C2549.1 672.3 2546.6 672.4 2545.7 671.9C2544.7 671.3 2543.9 669.4 2544.4 668.6Z"/>
<ellipse fill="#56bac8" cx="2537.0" cy="655.6" rx="2.2" ry="2.2" transform="rotate(30 2537.0 655.6)"/>
<path fill="#56bac8" d="M2502.8 680.9C2502.2 680.2 2504.5 676.8 2505.6 676.8C2506.6 676.8 2509.6 680.2 2509.1 680.9C2508.7 681.5 2503.4 681.5 2502.8 680.9Z"/>
<ellipse fill="#5f86cc" cx="2497.8" cy="686.1" rx="1.5" ry="3.2" transform="rotate(28 2497.8 686.1)"/>
<ellipse fill="#56bac8" cx="2452.8" cy="728.4" rx="2.1" ry="2.5"/>
<path fill="#5f86cc" d="M2393.9 628.9C2394.1 628.6 2396.7 628.6 2397.0 628.9C2397.2 629.3 2395.9 631.1 2395.4 631.1C2394.9 631.1 2393.6 629.3 2393.9 628.9Z"/>
<path fill="#5f86cc" d="M2424.2 607.5C2424.2 606.4 2425.7 604.3 2426.6 602.9C2427.6 601.5 2428.4 599.9 2429.8 599.1C2431.1 598.4 2433.6 599.1 2434.7 598.5C2435.9 597.9 2435.9 595.7 2436.6 595.4C2437.3 595.1 2438.7 595.7 2439.1 596.6C2439.4 597.6 2439.4 599.9 2438.8 601.0C2438.1 602.1 2435.9 602.4 2435.3 603.5C2434.8 604.5 2436.2 606.3 2435.3 607.2C2434.5 608.1 2431.3 608.3 2430.4 609.1C2429.4 609.8 2430.4 611.8 2429.8 611.9C2429.1 612.0 2427.6 610.4 2426.6 609.7C2425.7 609.0 2424.2 608.7 2424.2 607.5Z"/>
<path fill="#56bac8" d="M2424.9 607.3C2424.9 606.3 2426.4 604.4 2427.3 603.2C2428.2 601.9 2429.0 600.4 2430.2 599.8C2431.5 599.1 2434.0 599.6 2435.0 599.1C2436.1 598.6 2436.2 597.0 2436.7 596.6C2437.3 596.3 2438.1 596.6 2438.3 597.3C2438.5 597.9 2438.6 599.7 2438.0 600.7C2437.3 601.7 2435.3 602.2 2434.7 603.2C2434.2 604.2 2435.4 605.8 2434.6 606.7C2433.8 607.6 2431.0 607.9 2430.1 608.6C2429.3 609.3 2430.0 610.8 2429.5 610.9C2429.0 611.1 2427.8 610.0 2427.0 609.4C2426.3 608.8 2424.9 608.4 2424.9 607.3Z"/>
<path fill="#12c030" d="M2425.4 606.6C2425.6 605.5 2427.1 603.9 2427.9 602.9C2428.7 601.8 2429.1 600.9 2430.4 600.4C2431.6 599.9 2434.6 599.3 2435.3 599.8C2436.1 600.2 2435.3 601.8 2434.7 602.9C2434.1 603.9 2432.5 604.8 2431.6 606.0C2430.7 607.1 2430.0 609.2 2429.1 609.7C2428.3 610.2 2427.3 609.6 2426.6 609.1C2426.0 608.6 2425.2 607.6 2425.4 606.6Z"/>
<path fill="#5f86cc" d="M2438.1 592.3C2438.4 591.6 2440.7 590.6 2442.2 590.9C2443.7 591.2 2447.5 593.5 2447.1 594.2C2446.8 594.8 2441.8 595.2 2440.3 594.9C2438.8 594.6 2437.8 593.0 2438.1 592.3Z"/>
<ellipse fill="#5f86cc" cx="2434.4" cy="615.3" rx="4.5" ry="2.9"/>
<ellipse fill="#56bac8" cx="2433.8" cy="615.4" rx="3.6" ry="2.4"/>
<path fill="#5f86cc" d="M2429.1 624.0C2429.5 623.3 2431.0 621.9 2432.9 621.5C2434.7 621.1 2439.0 621.0 2440.3 621.5C2441.7 622.0 2441.3 623.9 2440.9 624.6C2440.5 625.3 2439.0 625.3 2437.8 625.8C2436.7 626.4 2435.3 628.0 2434.1 628.0C2432.9 628.0 2431.2 626.5 2430.4 625.8C2429.5 625.2 2428.7 624.7 2429.1 624.0Z"/>
<path fill="#12c030" d="M2430.1 624.0C2430.4 623.4 2431.6 622.4 2433.2 622.1C2434.7 621.8 2438.3 621.7 2439.4 622.1C2440.5 622.5 2440.1 623.8 2439.8 624.3C2439.5 624.8 2438.5 624.7 2437.5 625.2C2436.6 625.7 2435.2 627.2 2434.1 627.2C2433.0 627.2 2431.7 625.9 2431.0 625.3C2430.3 624.8 2429.7 624.5 2430.1 624.0Z"/>
<path fill="#5f86cc" d="M2332.2 706.2C2332.7 705.2 2334.5 705.4 2336.0 705.0C2337.4 704.6 2339.3 703.9 2340.9 703.8C2342.6 703.7 2344.0 704.3 2345.9 704.4C2347.8 704.5 2350.0 704.3 2352.1 704.4C2354.2 704.5 2357.7 704.6 2358.3 705.0C2358.9 705.4 2357.3 706.2 2355.8 706.9C2354.4 707.5 2350.1 708.0 2349.6 708.7C2349.1 709.5 2351.9 710.5 2352.7 711.2C2353.6 711.9 2354.6 712.3 2354.9 713.1C2355.2 713.8 2355.5 715.7 2354.6 715.7C2353.7 715.7 2351.1 713.7 2349.6 713.1C2348.2 712.4 2346.9 711.7 2345.9 711.8C2344.9 711.9 2343.8 712.5 2343.4 713.7C2343.0 714.9 2344.0 718.3 2343.5 718.8C2343.1 719.3 2342.0 717.2 2340.9 716.8C2339.9 716.4 2338.3 715.7 2337.2 716.2C2336.1 716.6 2334.8 719.6 2334.2 719.4C2333.6 719.2 2333.6 716.3 2333.5 714.9C2333.4 713.6 2333.7 712.7 2333.5 711.2C2333.3 709.8 2331.8 707.3 2332.2 706.2Z"/>
<path fill="#56bac8" d="M2334.1 707.5C2334.6 706.6 2336.0 706.7 2337.2 706.2C2338.4 705.8 2340.1 705.1 2341.6 705.0C2343.0 704.9 2344.1 705.6 2345.9 705.6C2347.7 705.7 2350.5 705.3 2352.1 705.3C2353.8 705.4 2356.3 705.5 2355.8 705.9C2355.4 706.4 2350.9 707.4 2349.6 708.1C2348.4 708.8 2348.0 709.4 2348.4 710.0C2348.8 710.5 2351.2 710.9 2352.1 711.5C2353.0 712.1 2354.4 713.5 2354.0 713.7C2353.6 713.9 2351.0 712.9 2349.6 712.5C2348.3 712.0 2347.0 711.1 2345.9 711.2C2344.8 711.3 2343.4 712.2 2342.8 713.1C2342.2 713.9 2342.9 715.8 2342.2 716.2C2341.4 716.5 2339.7 715.0 2338.4 715.2C2337.2 715.5 2335.4 718.0 2334.7 717.4C2334.0 716.9 2334.5 713.5 2334.4 711.8C2334.3 710.2 2333.6 708.4 2334.1 707.5Z"/>
<path fill="#12c030" d="M2336.0 711.2C2336.0 710.6 2338.4 708.9 2339.7 708.7C2341.0 708.5 2343.5 709.5 2343.5 710.1C2343.5 710.7 2341.0 712.4 2339.7 712.6C2338.4 712.8 2336.0 711.9 2336.0 711.2Z"/>
<ellipse fill="#12c030" cx="2345.3" cy="710.6" rx="1.6" ry="1.4"/>
<ellipse fill="#5f86cc" cx="2318.6" cy="719.9" rx="2.5" ry="1.9" transform="rotate(20 2318.6 719.9)"/>
<path fill="#5f86cc" d="M2320.1 723.6C2320.5 722.9 2321.9 720.8 2322.9 721.1C2323.9 721.5 2324.9 725.3 2326.0 725.5C2327.2 725.7 2328.3 723.0 2329.8 722.4C2331.2 721.8 2333.4 721.8 2334.7 722.1C2336.1 722.4 2337.3 723.4 2337.8 724.3C2338.4 725.2 2338.7 726.8 2338.0 727.5C2337.2 728.2 2334.4 727.9 2333.5 728.6C2332.5 729.3 2332.9 731.4 2332.2 731.8C2331.6 732.2 2330.6 731.6 2329.8 731.1C2328.9 730.5 2328.3 729.1 2327.3 728.6C2326.2 728.1 2324.7 728.6 2323.5 728.1C2322.4 727.6 2321.0 726.2 2320.4 725.5C2319.9 724.8 2319.7 724.4 2320.1 723.6Z"/>
<path fill="#56bac8" d="M2321.1 723.9C2320.9 723.1 2322.1 722.0 2322.9 722.4C2323.7 722.8 2324.9 726.3 2326.0 726.4C2327.2 726.6 2328.4 723.9 2329.8 723.3C2331.1 722.7 2333.2 722.7 2334.4 722.9C2335.6 723.1 2336.6 723.9 2337.1 724.6C2337.5 725.3 2337.7 726.5 2337.1 727.0C2336.4 727.6 2334.1 727.2 2333.2 727.9C2332.3 728.5 2332.3 730.4 2331.7 730.8C2331.2 731.2 2330.8 730.6 2330.1 730.2C2329.4 729.7 2328.6 728.3 2327.6 727.9C2326.5 727.4 2324.9 728.0 2323.9 727.4C2322.8 726.7 2321.2 724.8 2321.1 723.9Z"/>
<ellipse fill="#12c030" cx="2333.8" cy="725.0" rx="3.1" ry="2.5"/>
<ellipse fill="#56bac8" cx="2349.8" cy="728.6" rx="1.4" ry="1.9" transform="rotate(15 2349.8 728.6)"/>
<ellipse fill="#56bac8" cx="2368.1" cy="735.4" rx="1.9" ry="4.7"/>
<path fill="#5f86cc" d="M2364.8 741.3C2365.2 740.3 2366.0 739.7 2367.6 739.3C2369.2 738.9 2373.3 737.9 2374.5 738.9C2375.7 739.8 2373.5 742.9 2374.8 744.8C2376.0 746.6 2381.6 748.7 2381.9 750.2C2382.3 751.8 2377.7 753.0 2377.0 754.1C2376.3 755.1 2378.4 756.3 2377.7 756.7C2377.0 757.1 2374.2 756.1 2372.6 756.4C2371.0 756.7 2369.6 758.7 2368.3 758.4C2366.9 758.1 2364.8 756.1 2364.5 754.7C2364.2 753.2 2366.2 751.3 2366.4 749.7C2366.6 748.2 2365.7 746.8 2365.5 745.4C2365.2 744.0 2364.5 742.3 2364.8 741.3Z"/>
<path fill="#56bac8" d="M2372.6 745.4C2374.2 745.7 2380.6 748.9 2381.3 750.3C2382.0 751.7 2377.4 752.8 2376.6 753.8C2375.9 754.7 2377.6 755.6 2377.0 755.9C2376.3 756.2 2373.7 756.9 2372.9 755.6C2372.1 754.4 2372.0 750.2 2372.0 748.5C2371.9 746.8 2371.1 745.1 2372.6 745.4Z"/>
<path fill="#12c030" d="M2365.9 741.6C2366.1 740.9 2366.4 740.4 2367.6 740.1C2368.9 739.8 2372.4 738.9 2373.4 739.7C2374.3 740.4 2372.8 743.1 2373.6 744.8C2374.4 746.4 2377.7 748.5 2377.9 749.7C2378.1 750.9 2375.9 751.1 2375.0 752.1C2374.0 753.1 2373.5 754.7 2372.4 755.6C2371.3 756.5 2369.5 757.7 2368.4 757.5C2367.2 757.3 2365.8 755.7 2365.5 754.4C2365.3 753.1 2366.9 751.3 2367.0 749.7C2367.2 748.1 2366.6 746.1 2366.4 744.8C2366.2 743.4 2365.7 742.4 2365.9 741.6Z"/>
<path fill="#56bac8" d="M2367.0 757.2C2365.5 757.3 2361.0 759.3 2359.6 760.6C2358.2 761.8 2360.1 763.5 2358.6 764.6C2357.1 765.7 2352.1 766.2 2350.6 767.1C2349.0 768.0 2349.1 769.4 2349.3 770.2C2349.6 771.0 2350.6 772.1 2352.1 772.1C2353.6 772.0 2356.6 770.8 2358.3 769.9C2360.0 769.0 2360.9 767.8 2362.4 766.8C2363.9 765.8 2366.3 764.9 2367.3 763.7C2368.4 762.5 2368.6 760.7 2368.6 759.7C2368.5 758.6 2368.5 757.0 2367.0 757.2Z"/>
<path fill="#12c030" d="M2366.7 758.1C2365.5 758.3 2361.4 760.1 2360.2 761.2C2359.0 762.3 2360.9 763.9 2359.4 764.9C2357.9 766.0 2352.7 766.9 2351.2 767.7C2349.7 768.6 2350.2 769.3 2350.4 769.9C2350.6 770.5 2351.1 771.3 2352.4 771.1C2353.7 771.0 2356.5 769.8 2358.0 769.0C2359.6 768.1 2360.3 767.2 2361.7 766.2C2363.2 765.2 2365.7 764.1 2366.7 763.1C2367.7 762.0 2367.6 760.8 2367.6 760.0C2367.6 759.1 2368.0 757.9 2366.7 758.1Z"/>
<ellipse fill="#56bac8" cx="2386.0" cy="767.4" rx="2.0" ry="2.6"/>
<ellipse fill="#56bac8" cx="2347.5" cy="763.7" rx="4.5" ry="1.7" transform="rotate(-5 2347.5 763.7)"/>
<path fill="#5f86cc" d="M2337.2 764.6C2337.7 764.0 2338.7 762.9 2339.7 762.9C2340.6 762.9 2342.5 763.9 2342.9 764.6C2343.4 765.3 2342.3 766.2 2342.3 767.1C2342.3 768.0 2342.6 769.4 2342.9 770.2C2343.2 771.0 2344.7 771.8 2344.2 772.0C2343.6 772.1 2340.7 770.7 2339.7 771.0C2338.6 771.2 2338.2 772.4 2337.8 773.3C2337.4 774.2 2337.9 775.9 2337.2 776.4C2336.5 776.9 2334.4 777.3 2333.5 776.4C2332.6 775.5 2331.7 772.3 2331.9 771.0C2332.1 769.6 2333.9 769.1 2334.7 768.4C2335.5 767.6 2336.2 767.1 2336.6 766.5C2337.0 765.9 2336.7 765.2 2337.2 764.6Z"/>
<path fill="#12c030" d="M2337.7 764.8C2338.2 764.2 2338.9 763.7 2339.7 763.7C2340.4 763.7 2341.9 764.4 2342.2 764.9C2342.5 765.5 2341.6 766.3 2341.6 767.1C2341.5 767.9 2342.4 769.4 2342.0 769.9C2341.7 770.4 2340.4 769.8 2339.7 770.2C2338.9 770.6 2338.5 772.0 2337.5 772.4C2336.5 772.8 2334.6 772.6 2333.8 772.4C2333.0 772.2 2332.6 771.6 2332.9 771.0C2333.1 770.3 2334.5 769.4 2335.2 768.7C2335.9 768.0 2336.5 767.5 2336.9 766.8C2337.3 766.1 2337.2 765.3 2337.7 764.8Z"/>
<ellipse fill="#5f86cc" cx="2411.7" cy="713.1" rx="1.7" ry="1.7"/>
<path fill="#5f86cc" d="M2401.2 724.3C2401.9 723.5 2404.6 725.4 2405.5 724.9C2406.5 724.4 2406.1 721.7 2406.8 721.1C2407.4 720.6 2408.7 721.0 2409.3 721.5C2409.8 721.9 2408.9 723.3 2409.9 723.6C2410.8 723.9 2414.5 723.1 2414.8 723.3C2415.2 723.5 2412.7 724.1 2411.7 724.9C2410.8 725.7 2410.1 727.9 2409.3 728.1C2408.4 728.3 2407.8 726.3 2406.8 726.1C2405.7 725.9 2403.8 726.1 2403.0 726.7C2402.3 727.4 2402.4 729.6 2402.1 730.0C2401.8 730.4 2401.3 730.2 2401.2 729.2C2401.0 728.3 2400.5 725.0 2401.2 724.3Z"/>
<path fill="#56bac8" d="M2401.8 724.9C2402.4 724.3 2404.6 726.0 2405.5 725.5C2406.4 725.0 2406.5 722.6 2407.1 722.1C2407.7 721.6 2408.5 722.0 2408.9 722.4C2409.4 722.8 2408.9 724.0 2409.6 724.3C2410.2 724.5 2412.7 723.8 2413.0 723.9C2413.2 724.0 2411.8 724.3 2411.1 724.9C2410.4 725.4 2409.7 727.3 2408.9 727.4C2408.2 727.5 2407.8 725.7 2406.8 725.5C2405.7 725.3 2403.5 725.5 2402.7 726.1C2401.9 726.7 2402.1 729.1 2402.0 728.9C2401.8 728.7 2401.2 725.4 2401.8 724.9Z"/>
<ellipse fill="#12c030" cx="2407.7" cy="723.6" rx="1.5" ry="2.5"/>
<path fill="#5f86cc" d="M2422.3 741.6C2422.4 740.8 2423.6 738.2 2424.8 737.3C2425.9 736.4 2428.3 736.9 2429.1 736.1C2430.0 735.2 2428.9 733.0 2429.8 732.3C2430.6 731.7 2433.3 731.7 2434.1 732.3C2434.9 733.0 2434.4 734.8 2434.7 736.1C2435.0 737.3 2436.2 738.8 2436.0 739.8C2435.8 740.7 2434.4 741.8 2433.5 741.8C2432.5 741.8 2431.5 740.2 2430.4 739.8C2429.2 739.3 2427.7 738.8 2426.6 739.2C2425.6 739.5 2424.9 741.7 2424.2 742.1C2423.4 742.5 2422.2 742.4 2422.3 741.6Z"/>
<path fill="#56bac8" d="M2423.2 741.0C2423.0 740.9 2424.3 738.6 2425.4 737.9C2426.5 737.2 2428.9 737.5 2429.8 736.7C2430.6 735.9 2429.9 733.8 2430.5 733.3C2431.1 732.7 2432.9 732.7 2433.5 733.3C2434.1 733.8 2433.7 735.3 2434.0 736.4C2434.2 737.4 2435.1 738.7 2435.0 739.5C2434.9 740.2 2434.1 740.8 2433.4 740.7C2432.6 740.6 2431.6 739.2 2430.5 738.9C2429.4 738.5 2427.9 738.1 2426.6 738.4C2425.4 738.8 2423.4 741.1 2423.2 741.0Z"/>
<path fill="#5f86cc" d="M2332.2 771.8C2333.0 771.3 2336.6 770.7 2337.2 771.2C2337.8 771.7 2335.5 773.7 2336.0 774.9C2336.4 776.2 2338.7 777.6 2339.7 778.7C2340.7 779.7 2341.1 780.6 2342.2 781.1C2343.2 781.7 2344.2 781.8 2345.9 781.8C2347.6 781.8 2349.9 781.2 2352.1 781.1C2354.3 781.1 2356.7 781.3 2358.9 781.5C2361.2 781.6 2364.7 781.5 2365.8 782.1C2366.9 782.7 2365.9 784.1 2365.5 784.9C2365.1 785.7 2362.5 786.1 2363.3 786.7C2364.1 787.4 2369.1 788.1 2370.1 788.6C2371.2 789.1 2370.6 789.8 2369.5 789.8C2368.4 789.8 2364.6 788.4 2363.3 788.6C2361.9 788.8 2362.3 790.5 2361.4 791.1C2360.6 791.7 2359.9 792.3 2358.3 792.0C2356.8 791.7 2354.2 790.3 2352.1 789.2C2350.0 788.1 2347.8 786.3 2345.9 785.5C2344.0 784.7 2342.1 784.0 2340.9 784.3C2339.8 784.5 2340.1 786.6 2339.1 786.7C2338.0 786.8 2336.2 785.1 2334.7 784.9C2333.3 784.7 2331.0 785.8 2330.4 785.5C2329.8 785.2 2331.4 783.9 2331.0 783.0C2330.6 782.1 2328.4 781.0 2328.2 779.9C2328.0 778.8 2329.0 777.1 2329.8 776.2C2330.5 775.2 2332.4 775.0 2332.9 774.3C2333.3 773.6 2331.5 772.3 2332.2 771.8Z"/>
<path fill="#56bac8" d="M2332.9 772.5C2333.3 772.0 2335.5 771.7 2336.0 772.1C2336.4 772.6 2334.8 774.1 2335.3 775.2C2335.9 776.4 2337.9 777.9 2339.1 779.0C2340.2 780.1 2341.0 781.1 2342.2 781.8C2343.3 782.4 2345.5 782.3 2345.9 782.7C2346.3 783.1 2345.5 784.1 2344.7 784.3C2343.8 784.4 2342.0 783.4 2340.9 783.6C2339.9 783.9 2339.5 785.7 2338.4 785.8C2337.4 785.9 2335.9 784.5 2334.7 784.3C2333.5 784.0 2331.8 784.8 2331.3 784.6C2330.8 784.3 2331.9 783.5 2331.5 782.7C2331.1 781.9 2329.0 780.9 2328.8 779.9C2328.6 778.9 2329.5 777.4 2330.2 776.5C2331.0 775.6 2332.7 775.3 2333.2 774.6C2333.6 774.0 2332.4 772.9 2332.9 772.5Z"/>
<ellipse fill="#8c98c8" cx="2357.7" cy="789.8" rx="3.1" ry="1.6" transform="rotate(10 2357.7 789.8)"/>
<path fill="#12c030" d="M2329.8 776.8C2330.6 776.1 2332.0 775.5 2333.5 775.6C2334.9 775.7 2337.1 776.5 2338.4 777.4C2339.8 778.4 2340.5 780.2 2341.6 781.1C2342.6 782.1 2345.0 782.4 2344.7 783.0C2344.3 783.6 2341.3 784.7 2339.7 784.9C2338.0 785.1 2336.2 784.6 2334.7 784.3C2333.3 783.9 2332.0 783.7 2331.0 783.0C2330.0 782.3 2328.7 780.9 2328.5 779.9C2328.3 778.9 2328.9 777.5 2329.8 776.8Z"/>
<ellipse fill="#12c030" cx="2333.5" cy="786.1" rx="1.6" ry="2.2"/>
<ellipse fill="#5f86cc" cx="2325.4" cy="806.3" rx="2.6" ry="2.5"/>
<ellipse fill="#56bac8" cx="2336.0" cy="807.2" rx="2.9" ry="2.1" transform="rotate(30 2336.0 807.2)"/>
<ellipse fill="#12c030" cx="2336.0" cy="807.2" rx="1.7" ry="1.4" transform="rotate(30 2336.0 807.2)"/>
<path fill="#56bac8" d="M2342.2 809.4C2342.8 809.0 2344.7 810.0 2345.9 810.3C2347.1 810.7 2348.0 811.1 2349.6 811.6C2351.3 812.0 2354.6 812.5 2355.8 813.1C2357.0 813.8 2357.2 814.7 2356.9 815.3C2356.6 816.0 2355.2 817.2 2354.0 817.0C2352.8 816.8 2351.2 814.6 2349.6 814.1C2348.1 813.5 2345.9 813.8 2344.7 813.6C2343.4 813.3 2342.6 813.2 2342.2 812.5C2341.8 811.8 2341.6 809.8 2342.2 809.4Z"/>
<path fill="#12c030" d="M2343.5 810.7C2343.7 810.4 2344.9 810.8 2345.9 811.1C2346.9 811.3 2348.1 811.8 2349.6 812.2C2351.2 812.7 2354.2 813.3 2355.2 813.8C2356.3 814.3 2356.0 814.8 2355.8 815.2C2355.6 815.6 2355.0 816.3 2354.0 816.1C2353.0 815.8 2351.4 814.0 2349.9 813.4C2348.4 812.9 2346.0 813.3 2345.0 812.8C2343.9 812.4 2343.4 810.9 2343.5 810.7Z"/>
<ellipse fill="#5f86cc" cx="2378.9" cy="786.9" rx="3.2" ry="2.1" transform="rotate(-35 2378.9 786.9)"/>
<ellipse fill="#56bac8" cx="2378.8" cy="786.9" rx="2.6" ry="1.6" transform="rotate(-35 2378.8 786.9)"/>
<ellipse fill="#56bac8" cx="2383.5" cy="802.6" rx="1.9" ry="1.6"/>
<ellipse fill="#56bac8" cx="2416.7" cy="805.4" rx="2.6" ry="1.5"/>
<ellipse fill="#56bac8" cx="2446.5" cy="726.2" rx="1.4" ry="1.4"/>
<path fill="#5f86cc" d="M2438.7 732.4C2439.1 731.5 2441.0 731.2 2442.4 731.2C2443.9 731.2 2446.0 732.3 2447.4 732.4C2448.7 732.5 2449.8 732.6 2450.5 731.8C2451.2 731.0 2451.0 728.4 2451.4 727.5C2451.8 726.5 2452.4 725.8 2453.0 725.9C2453.6 726.0 2454.6 727.0 2454.8 728.1C2455.1 729.2 2454.4 731.2 2454.2 732.4C2454.0 733.7 2453.1 734.6 2453.6 735.5C2454.1 736.5 2456.4 737.1 2457.3 738.0C2458.3 738.9 2459.4 740.4 2459.2 741.1C2459.0 741.8 2457.2 742.4 2456.1 742.4C2454.9 742.4 2453.4 741.6 2452.4 741.1C2451.3 740.6 2450.7 739.5 2449.9 739.3C2449.0 739.0 2448.6 739.9 2447.4 739.9C2446.1 739.9 2443.7 739.8 2442.4 739.3C2441.2 738.7 2440.6 737.9 2439.9 736.8C2439.3 735.6 2438.3 733.4 2438.7 732.4Z"/>
<path fill="#12c030" d="M2439.9 733.0C2440.1 732.0 2442.3 732.1 2443.7 732.1C2445.0 732.2 2446.8 733.3 2448.0 733.4C2449.3 733.5 2450.3 732.5 2451.1 732.7C2451.9 733.0 2452.0 734.0 2453.0 734.9C2453.9 735.8 2456.0 737.4 2456.7 738.3C2457.4 739.3 2457.8 740.1 2457.3 740.5C2456.8 740.9 2454.7 740.9 2453.6 740.5C2452.5 740.1 2451.6 738.6 2450.5 738.3C2449.4 738.1 2448.1 738.9 2446.8 738.9C2445.4 738.9 2443.6 739.3 2442.4 738.3C2441.3 737.3 2439.7 734.1 2439.9 733.0Z"/>
<ellipse fill="#5f86cc" cx="2464.8" cy="742.7" rx="4.7" ry="2.4" transform="rotate(15 2464.8 742.7)"/>
<ellipse fill="#56bac8" cx="2505.5" cy="737.4" rx="1.6" ry="1.5"/>
<ellipse fill="#5f86cc" cx="2521.0" cy="753.5" rx="3.0" ry="3.6" transform="rotate(15 2521.0 753.5)"/>
<ellipse fill="#56bac8" cx="2520.8" cy="753.5" rx="2.5" ry="2.9" transform="rotate(15 2520.8 753.5)"/>
<ellipse fill="#12c030" cx="2520.4" cy="753.5" rx="2.0" ry="2.4"/>
<path fill="#5f86cc" d="M2452.0 778.4C2452.0 777.5 2452.9 775.5 2453.6 774.7C2454.3 773.8 2455.3 773.1 2456.1 773.1C2456.9 773.1 2458.0 774.0 2458.6 774.7C2459.2 775.3 2459.0 776.3 2459.8 777.1C2460.6 778.0 2462.9 778.7 2463.5 779.6C2464.2 780.6 2464.3 782.0 2463.9 782.7C2463.4 783.5 2461.8 784.1 2461.1 784.0C2460.3 783.9 2459.8 782.7 2459.2 782.1C2458.6 781.5 2458.3 780.6 2457.3 780.2C2456.4 779.9 2454.5 780.6 2453.6 780.2C2452.7 779.9 2452.0 779.3 2452.0 778.4Z"/>
<path fill="#12c030" d="M2452.7 778.1C2452.7 777.3 2453.5 775.7 2454.1 775.0C2454.7 774.3 2455.4 773.9 2456.1 773.9C2456.7 773.9 2457.6 774.6 2458.1 775.2C2458.6 775.7 2458.5 776.7 2459.2 777.5C2459.9 778.2 2462.3 779.2 2462.3 779.8C2462.3 780.3 2460.0 780.6 2459.2 780.6C2458.4 780.5 2458.2 779.7 2457.3 779.5C2456.4 779.3 2454.7 779.7 2453.9 779.5C2453.1 779.3 2452.6 778.8 2452.7 778.1Z"/>
<ellipse fill="#56bac8" cx="2461.7" cy="781.8" rx="2.0" ry="1.7"/>
<ellipse fill="#56bac8" cx="2449.6" cy="791.4" rx="4.7" ry="2.5" transform="rotate(-20 2449.6 791.4)"/>
<ellipse fill="#12c030" cx="2449.6" cy="791.4" rx="4.0" ry="1.9" transform="rotate(-20 2449.6 791.4)"/>
<path fill="#5f86cc" d="M2475.0 791.4C2475.4 790.6 2477.5 788.2 2479.1 788.3C2480.7 788.5 2483.9 791.4 2484.7 792.4C2485.4 793.3 2483.9 793.3 2483.4 793.9C2482.9 794.5 2482.3 796.0 2481.6 795.9C2480.8 795.8 2479.9 794.0 2479.1 793.6C2478.2 793.2 2477.3 793.7 2476.6 793.3C2475.9 792.9 2474.6 792.3 2475.0 791.4Z"/>
<path fill="#12c030" d="M2476.0 791.4C2476.3 790.9 2477.9 789.2 2479.1 789.3C2480.2 789.4 2482.7 791.4 2482.8 792.0C2482.9 792.7 2480.6 792.9 2479.7 793.0C2478.8 793.1 2477.8 792.9 2477.2 792.7C2476.6 792.4 2475.7 792.0 2476.0 791.4Z"/>
<path fill="#5f86cc" d="M2528.1 777.5C2528.1 777.0 2529.8 774.4 2530.6 773.4C2531.4 772.4 2531.8 771.9 2533.1 771.6C2534.5 771.2 2538.0 770.7 2538.7 771.2C2539.4 771.8 2538.4 773.6 2537.5 774.7C2536.5 775.8 2534.2 777.7 2533.1 777.9C2532.0 778.1 2531.4 776.0 2530.6 775.9C2529.8 775.8 2528.1 777.9 2528.1 777.5Z"/>
<path fill="#12c030" d="M2529.4 775.9C2529.1 775.3 2530.6 774.0 2531.2 773.4C2531.9 772.8 2532.4 772.4 2533.4 772.2C2534.4 771.9 2536.6 771.7 2537.1 772.0C2537.7 772.4 2537.2 773.5 2536.5 774.3C2535.8 775.2 2534.3 776.8 2533.1 777.0C2531.9 777.3 2529.7 776.5 2529.4 775.9Z"/>
<path fill="#5f86cc" d="M2118.0 783.9C2118.6 782.9 2120.9 782.3 2122.6 781.5C2124.4 780.7 2126.9 778.9 2128.4 779.2C2130.0 779.5 2131.0 781.5 2131.9 783.1C2132.8 784.6 2134.0 787.2 2133.9 788.5C2133.7 789.8 2132.4 790.7 2131.1 790.8C2129.9 791.0 2128.2 789.5 2126.5 789.3C2124.8 789.1 2122.3 790.1 2121.1 789.7C2119.8 789.3 2119.2 787.9 2118.7 787.0C2118.2 786.0 2117.3 784.8 2118.0 783.9Z"/>
<path fill="#56bac8" d="M2118.7 784.2C2119.3 783.5 2121.4 782.9 2123.0 782.3C2124.5 781.7 2126.7 780.2 2128.0 780.4C2129.4 780.6 2130.4 782.2 2131.1 783.5C2131.9 784.8 2132.8 787.1 2132.7 788.1C2132.6 789.2 2131.8 789.6 2130.8 789.7C2129.7 789.7 2128.0 788.7 2126.5 788.5C2124.9 788.3 2122.6 788.8 2121.4 788.5C2120.3 788.2 2120.0 787.3 2119.5 786.6C2119.1 785.9 2118.1 785.0 2118.7 784.2Z"/>
<ellipse fill="#12c030" cx="2127.4" cy="785.0" rx="4.8" ry="4.0" transform="rotate(20 2127.4 785.0)"/>
<ellipse fill="#12c030" cx="2121.1" cy="785.4" rx="1.6" ry="1.9"/>
<ellipse fill="#5f86cc" cx="2140.1" cy="766.0" rx="2.3" ry="4.0" transform="rotate(-20 2140.1 766.0)"/>
<ellipse fill="#56bac8" cx="2140.1" cy="765.8" rx="1.7" ry="3.1" transform="rotate(-20 2140.1 765.8)"/>
<ellipse fill="#5f86cc" cx="2185.1" cy="742.3" rx="1.6" ry="3.5" transform="rotate(-15 2185.1 742.3)"/>
<path fill="#5f86cc" d="M2178.1 757.8C2178.4 756.0 2180.4 751.8 2181.6 751.2C2182.8 750.7 2184.1 754.1 2185.5 754.3C2186.9 754.6 2188.9 752.5 2190.2 752.8C2191.4 753.1 2192.5 754.9 2193.3 755.9C2194.0 756.9 2195.3 758.1 2194.8 759.0C2194.3 759.9 2191.3 760.6 2190.2 761.3C2189.0 762.1 2188.9 763.3 2187.8 763.7C2186.8 764.1 2185.2 763.9 2183.9 763.7C2182.7 763.4 2181.0 763.1 2180.1 762.1C2179.1 761.1 2177.9 759.7 2178.1 757.8Z"/>
<path fill="#56bac8" d="M2178.5 757.8C2178.8 756.4 2180.8 753.2 2182.0 752.8C2183.2 752.4 2184.2 755.3 2185.5 755.5C2186.8 755.8 2188.6 754.2 2189.8 754.3C2190.9 754.5 2191.9 755.9 2192.5 756.7C2193.1 757.4 2193.7 758.2 2193.3 758.9C2192.8 759.5 2190.7 760.0 2189.8 760.6C2188.8 761.2 2188.4 762.1 2187.4 762.5C2186.5 762.9 2185.1 762.9 2183.9 762.7C2182.8 762.5 2181.4 762.2 2180.5 761.3C2179.5 760.5 2178.3 759.3 2178.5 757.8Z"/>
<ellipse fill="#12c030" cx="2182.8" cy="758.1" rx="4.3" ry="3.9"/>
<path fill="#5f86cc" d="M2192.1 750.5C2192.4 749.9 2193.8 752.1 2194.8 752.0C2195.8 752.0 2196.8 750.1 2197.9 750.1C2199.1 750.1 2201.0 751.0 2201.8 752.0C2202.6 753.0 2203.1 754.8 2203.0 755.9C2202.8 757.0 2202.0 758.5 2201.0 758.6C2200.1 758.7 2198.4 757.3 2197.1 756.7C2195.8 756.1 2194.1 756.2 2193.3 755.1C2192.4 754.1 2191.8 751.0 2192.1 750.5Z"/>
<ellipse fill="#56bac8" cx="2198.3" cy="754.3" rx="3.1" ry="2.2" transform="rotate(25 2198.3 754.3)"/>
<path fill="#5f86cc" d="M2210.0 753.2C2210.3 753.2 2211.7 755.4 2212.7 755.9C2213.6 756.4 2214.9 755.5 2215.8 756.3C2216.7 757.1 2218.2 759.5 2218.1 760.6C2218.0 761.7 2215.9 763.0 2215.0 762.9C2214.1 762.8 2213.4 760.9 2212.7 759.8C2211.9 758.6 2210.8 757.0 2210.3 755.9C2209.9 754.8 2209.6 753.2 2210.0 753.2Z"/>
<ellipse fill="#56bac8" cx="2218.3" cy="734.2" rx="2.8" ry="3.1"/>
<ellipse fill="#12c030" cx="2218.3" cy="734.0" rx="1.7" ry="1.9"/>
<ellipse fill="#56bac8" cx="2235.6" cy="720.0" rx="2.6" ry="3.9"/>
<path fill="#5f86cc" d="M2239.8 760.9C2240.0 760.4 2240.8 760.8 2242.2 759.8C2243.6 758.8 2246.7 756.3 2248.4 755.1C2250.1 754.0 2251.0 752.9 2252.3 752.8C2253.6 752.7 2255.4 753.3 2256.1 754.3C2256.9 755.4 2256.2 757.7 2256.9 759.0C2257.6 760.3 2260.0 761.3 2260.4 762.1C2260.8 762.9 2260.2 763.9 2259.3 763.8C2258.3 763.7 2256.3 761.7 2254.6 761.3C2252.9 760.9 2250.6 760.8 2249.2 761.3C2247.7 761.9 2247.0 764.3 2246.1 764.6C2245.2 764.9 2244.6 763.1 2243.7 762.9C2242.9 762.6 2241.7 763.4 2241.0 763.0C2240.4 762.7 2239.7 761.5 2239.8 760.9Z"/>
<path fill="#12c030" d="M2242.6 760.9C2243.1 759.9 2246.8 757.5 2248.4 756.3C2250.0 755.1 2251.1 754.2 2252.3 754.0C2253.4 753.8 2254.8 754.3 2255.4 755.1C2256.0 756.0 2255.5 757.9 2256.0 759.0C2256.5 760.1 2258.7 761.5 2258.5 761.7C2258.2 762.0 2256.1 760.8 2254.6 760.6C2253.0 760.3 2250.7 760.1 2249.2 760.4C2247.6 760.7 2246.4 762.4 2245.3 762.5C2244.2 762.6 2242.0 762.0 2242.6 760.9Z"/>
<ellipse fill="#56bac8" cx="2264.8" cy="752.2" rx="2.3" ry="2.3"/>
<ellipse fill="#12c030" cx="2264.7" cy="752.2" rx="1.7" ry="1.7"/>
<path fill="#5f86cc" d="M2270.9 750.5C2271.3 749.5 2274.1 748.1 2275.6 748.1C2277.0 748.1 2278.5 749.7 2279.4 750.5C2280.4 751.3 2281.7 752.5 2281.1 753.0C2280.6 753.4 2277.7 753.2 2276.3 753.3C2275.0 753.5 2274.1 754.2 2273.2 753.7C2272.3 753.2 2270.5 751.4 2270.9 750.5Z"/>
<path fill="#12c030" d="M2271.7 750.6C2272.0 750.0 2274.4 749.0 2275.6 749.1C2276.7 749.1 2278.2 750.3 2278.8 750.9C2279.5 751.4 2279.9 752.1 2279.4 752.4C2279.0 752.7 2277.3 752.5 2276.3 752.6C2275.3 752.7 2274.2 753.3 2273.4 753.0C2272.6 752.6 2271.3 751.3 2271.7 750.6Z"/>
<ellipse fill="#56bac8" cx="2271.0" cy="636.8" rx="2.1" ry="2.7"/>
<ellipse fill="#12c030" cx="2271.0" cy="636.6" rx="1.7" ry="2.4"/>
<ellipse fill="#12c030" cx="2266.3" cy="646.1" rx="2.6" ry="2.2" transform="rotate(-35 2266.3 646.1)"/>
</g>
<g filter="url(#t)">
<path fill="#0a8a18" d="M2533.2 542.3C2533.6 541.1 2536.6 540.3 2538.2 541.1C2539.8 541.8 2542.3 545.2 2542.5 546.6C2542.8 548.1 2540.6 549.4 2539.4 549.8C2538.3 550.1 2536.7 549.8 2535.7 548.5C2534.7 547.3 2532.8 543.5 2533.2 542.3Z"/>
<path fill="#ffd800" d="M2529.5 539.8C2529.6 539.2 2530.5 538.6 2531.4 539.2C2532.2 539.8 2534.2 542.6 2534.5 543.5C2534.8 544.5 2533.9 544.9 2533.2 544.8C2532.6 544.7 2531.4 543.7 2530.7 542.9C2530.1 542.1 2529.4 540.4 2529.5 539.8Z"/>
<path fill="#ffd800" d="M2533.9 537.3C2534.2 537.0 2535.8 536.7 2537.0 536.7C2538.1 536.7 2540.2 537.0 2540.7 537.3C2541.2 537.7 2541.0 538.4 2540.1 538.7C2539.1 539.0 2536.1 539.2 2535.1 538.9C2534.1 538.7 2533.5 537.7 2533.9 537.3Z"/>
<ellipse fill="#0a8a18" cx="2487.3" cy="554.2" rx="1.9" ry="1.9"/>
<path fill="#0a8a18" d="M2509.6 580.6C2510.1 580.2 2512.0 580.5 2512.7 581.2C2513.5 582.0 2514.0 583.8 2514.0 585.0C2514.0 586.1 2513.5 588.3 2512.7 588.1C2512.0 587.9 2510.1 585.0 2509.6 583.7C2509.1 582.5 2509.1 581.0 2509.6 580.6Z"/>
<path fill="#ffd800" d="M2507.1 585.6C2507.3 585.1 2508.8 584.7 2509.6 584.8C2510.5 585.0 2511.8 586.1 2512.1 586.7C2512.4 587.3 2512.2 588.2 2511.6 588.4C2511.0 588.5 2509.1 588.0 2508.4 587.6C2507.6 587.1 2506.9 586.0 2507.1 585.6Z"/>
<path fill="#ffd800" d="M2473.0 638.4C2473.7 638.0 2477.7 638.1 2479.2 638.4C2480.7 638.7 2481.8 639.8 2481.8 640.2C2481.8 640.7 2480.4 641.1 2479.2 641.2C2478.0 641.4 2475.9 641.5 2474.8 641.0C2473.8 640.5 2472.3 638.8 2473.0 638.4Z"/>
<ellipse fill="#ffd800" cx="2491.1" cy="636.3" rx="2.2" ry="1.4" transform="rotate(10 2491.1 636.3)"/>
<path fill="#0a8a18" d="M2382.6 656.4C2383.0 655.3 2385.1 654.6 2386.6 655.1C2388.0 655.5 2390.1 657.5 2391.2 659.0C2392.3 660.6 2393.2 662.7 2393.2 664.3C2393.2 666.0 2392.2 668.5 2391.2 668.9C2390.2 669.4 2388.4 668.2 2387.2 667.0C2386.0 665.7 2384.7 663.4 2383.9 661.7C2383.1 659.9 2382.2 657.5 2382.6 656.4Z"/>
<path fill="#0a8a18" d="M2405.0 667.0C2405.7 666.0 2409.0 665.2 2410.3 665.6C2411.6 666.1 2413.0 668.3 2413.0 669.6C2413.0 670.9 2411.4 673.2 2410.3 673.6C2409.2 673.9 2407.2 672.7 2406.4 671.6C2405.5 670.5 2404.4 667.9 2405.0 667.0Z"/>
<path fill="#0a8a18" d="M2407.7 651.8C2408.4 651.0 2410.8 651.0 2411.6 651.8C2412.5 652.5 2412.1 655.2 2413.0 656.4C2413.8 657.6 2416.5 658.2 2416.9 659.0C2417.3 659.9 2416.7 661.5 2415.6 661.7C2414.5 661.9 2411.7 661.2 2410.3 660.4C2408.9 659.5 2407.5 657.8 2407.0 656.4C2406.6 655.0 2406.9 652.5 2407.7 651.8Z"/>
<path fill="#0a8a18" d="M2418.2 663.0C2419.0 662.3 2422.2 662.3 2423.5 663.0C2424.8 663.7 2426.4 666.0 2426.1 667.0C2425.9 667.9 2423.4 668.9 2422.2 668.9C2421.0 668.9 2419.5 667.9 2418.9 667.0C2418.2 666.0 2417.5 663.7 2418.2 663.0Z"/>
<path fill="#0a8a18" d="M2368.1 661.7C2368.5 660.7 2369.8 659.7 2370.7 661.0C2371.6 662.3 2372.3 667.3 2373.4 669.6C2374.5 671.9 2377.1 673.8 2377.3 674.9C2377.5 676.0 2375.8 676.6 2374.7 676.2C2373.6 675.8 2371.8 673.8 2370.7 672.2C2369.6 670.7 2368.5 668.7 2368.1 667.0C2367.6 665.2 2367.6 662.7 2368.1 661.7Z"/>
<path fill="#0a8a18" d="M2383.9 672.2C2384.6 671.4 2389.2 669.4 2390.5 669.6C2391.8 669.8 2392.5 672.7 2391.8 673.6C2391.2 674.4 2387.9 675.1 2386.6 674.9C2385.2 674.7 2383.3 673.1 2383.9 672.2Z"/>
<ellipse fill="#0a8a18" cx="2395.1" cy="645.2" rx="2.0" ry="1.5"/>
<path fill="#ffd800" d="M2381.9 651.8C2382.8 650.8 2385.6 649.8 2387.9 649.1C2390.2 648.5 2392.8 648.1 2395.8 647.8C2398.8 647.5 2403.8 647.2 2405.7 647.5C2407.6 647.8 2407.3 649.0 2407.0 649.8C2406.7 650.6 2403.6 651.6 2403.7 652.4C2403.8 653.3 2407.5 654.4 2407.7 655.1C2407.9 655.8 2406.1 656.5 2405.0 656.5C2403.9 656.5 2402.6 655.1 2401.1 655.1C2399.5 655.1 2397.3 656.3 2395.8 656.4C2394.3 656.5 2392.9 655.4 2391.8 655.9C2390.7 656.3 2390.1 658.9 2389.2 659.0C2388.3 659.1 2387.7 657.1 2386.6 656.4C2385.5 655.7 2383.4 655.8 2382.6 655.1C2381.8 654.3 2381.1 652.8 2381.9 651.8Z"/>
<path fill="#ffd800" d="M2393.8 661.7C2394.5 660.6 2397.0 659.3 2398.4 659.0C2399.9 658.8 2401.5 659.7 2402.4 660.4C2403.3 661.0 2404.1 662.1 2403.8 663.0C2403.6 663.9 2402.2 665.0 2401.1 665.6C2399.9 666.3 2398.2 667.1 2397.1 667.1C2396.0 667.1 2395.0 666.5 2394.5 665.6C2393.9 664.7 2393.2 662.8 2393.8 661.7Z"/>
<path fill="#ffd800" d="M2389.2 656.4C2389.6 655.7 2392.1 656.0 2393.2 656.4C2394.3 656.8 2395.7 658.3 2395.8 659.0C2395.9 659.8 2394.7 660.8 2393.8 661.0C2392.9 661.2 2391.3 661.1 2390.5 660.4C2389.7 659.6 2388.8 657.1 2389.2 656.4Z"/>
<path fill="#ffd800" d="M2354.2 660.4C2355.0 659.6 2358.4 658.4 2360.2 657.7C2361.9 657.1 2363.2 657.1 2364.8 656.4C2366.3 655.7 2368.4 653.9 2369.4 653.8C2370.4 653.6 2371.3 654.7 2370.7 655.7C2370.2 656.7 2366.8 658.5 2366.1 659.7C2365.4 660.9 2367.0 661.9 2366.8 663.0C2366.5 664.1 2365.5 666.0 2364.8 666.4C2364.0 666.9 2363.1 666.2 2362.1 665.6C2361.1 665.1 2359.9 663.5 2358.8 663.0C2357.7 662.4 2356.3 662.8 2355.5 662.3C2354.8 661.9 2353.4 661.1 2354.2 660.4Z"/>
<path fill="#ffd800" d="M2370.7 663.0C2370.9 662.1 2372.5 661.9 2373.4 662.3C2374.2 662.8 2374.9 664.5 2376.0 665.6C2377.1 666.7 2378.9 668.1 2380.0 668.9C2381.0 669.8 2382.1 670.3 2382.1 670.9C2382.1 671.6 2381.0 672.9 2380.0 672.9C2378.9 672.9 2377.3 671.8 2376.0 670.9C2374.7 670.0 2372.9 668.9 2372.0 667.6C2371.2 666.3 2370.5 663.9 2370.7 663.0Z"/>
<path fill="#ffd800" d="M2383.9 669.6C2384.5 669.1 2387.0 668.5 2387.3 668.8C2387.7 669.1 2386.5 671.0 2385.9 671.6C2385.3 672.1 2384.2 672.3 2383.9 672.0C2383.6 671.6 2383.3 670.1 2383.9 669.6Z"/>
<path fill="#ffd800" d="M2364.1 677.0C2364.3 676.6 2368.1 676.1 2369.4 676.2C2370.7 676.3 2372.3 677.1 2372.0 677.5C2371.8 677.9 2369.4 678.7 2368.1 678.6C2366.8 678.5 2363.9 677.4 2364.1 677.0Z"/>
<path fill="#ffd800" d="M2412.3 664.3C2412.7 663.2 2414.8 662.0 2415.6 662.2C2416.4 662.4 2417.0 664.5 2417.0 665.6C2417.0 666.8 2416.3 668.4 2415.6 668.9C2414.9 669.5 2413.5 669.8 2413.0 669.1C2412.4 668.3 2411.9 665.5 2412.3 664.3Z"/>
<path fill="#ffd800" d="M2428.1 665.6C2428.5 665.4 2430.0 665.5 2430.8 666.0C2431.5 666.4 2431.6 667.9 2432.7 668.3C2433.8 668.7 2436.9 668.0 2437.4 668.3C2437.8 668.5 2436.6 669.6 2435.4 669.7C2434.2 669.9 2431.3 669.4 2430.1 669.1C2429.0 668.7 2428.8 668.2 2428.5 667.6C2428.1 667.0 2427.7 665.9 2428.1 665.6Z"/>
<path fill="#ff9000" d="M2386.9 651.4C2387.8 650.7 2391.9 650.0 2393.8 649.3C2395.7 648.6 2396.8 647.6 2398.4 647.3C2400.1 647.0 2402.1 647.7 2403.7 647.7C2405.3 647.6 2407.2 646.6 2408.0 647.0C2408.8 647.4 2409.1 649.3 2408.5 650.1C2407.9 650.9 2405.4 651.2 2404.4 651.8C2403.4 652.4 2403.5 653.2 2402.4 653.9C2401.3 654.6 2399.5 655.8 2397.8 656.1C2396.1 656.5 2393.7 656.3 2392.2 655.9C2390.6 655.5 2389.4 654.5 2388.5 653.8C2387.7 653.0 2386.0 652.2 2386.9 651.4Z"/>
<path fill="#ee0000" d="M2388.2 651.2C2389.1 650.7 2392.8 650.5 2394.5 649.9C2396.2 649.4 2397.1 648.2 2398.4 648.0C2399.8 647.7 2401.0 648.4 2402.4 648.3C2403.8 648.3 2406.2 647.5 2407.0 647.7C2407.9 647.9 2408.1 649.0 2407.5 649.5C2407.0 650.1 2404.7 650.4 2403.7 651.0C2402.7 651.6 2402.5 652.5 2401.4 653.2C2400.3 654.0 2398.6 655.0 2397.1 655.3C2395.6 655.6 2393.8 655.4 2392.5 655.1C2391.2 654.7 2389.9 653.9 2389.2 653.2C2388.5 652.6 2387.3 651.8 2388.2 651.2Z"/>
<ellipse fill="#ff9000" cx="2372.4" cy="664.8" rx="1.6" ry="1.3" transform="rotate(40 2372.4 664.8)"/>
<ellipse fill="#0a8a18" cx="2449.9" cy="665.6" rx="2.6" ry="1.5" transform="rotate(20 2449.9 665.6)"/>
<ellipse fill="#ffd800" cx="2450.6" cy="670.9" rx="3.4" ry="1.5" transform="rotate(20 2450.6 670.9)"/>
<ellipse fill="#ffd800" cx="2467.4" cy="671.7" rx="1.7" ry="2.1" transform="rotate(-35 2467.4 671.7)"/>
<ellipse fill="#0a8a18" cx="2377.3" cy="686.1" rx="3.3" ry="1.6" transform="rotate(-20 2377.3 686.1)"/>
<ellipse fill="#0a8a18" cx="2385.9" cy="684.1" rx="2.6" ry="1.3" transform="rotate(20 2385.9 684.1)"/>
<ellipse fill="#ff9000" cx="2388.4" cy="687.5" rx="1.3" ry="1.3"/>
<ellipse fill="#ffd800" cx="2538.7" cy="666.9" rx="1.7" ry="1.4" transform="rotate(30 2538.7 666.9)"/>
<ellipse fill="#0a8a18" cx="2429.1" cy="604.7" rx="1.9" ry="1.6" transform="rotate(-30 2429.1 604.7)"/>
<ellipse fill="#0a8a18" cx="2334.4" cy="725.2" rx="1.7" ry="1.5"/>
<path fill="#0a8a18" d="M2367.0 741.6C2367.8 740.9 2371.9 740.5 2372.9 741.0C2373.9 741.5 2373.3 743.8 2372.9 744.8C2372.6 745.7 2371.6 746.5 2370.7 746.6C2369.9 746.7 2368.6 746.2 2368.0 745.4C2367.3 744.5 2366.2 742.4 2367.0 741.6Z"/>
<ellipse fill="#ffd800" cx="2369.2" cy="749.8" rx="1.3" ry="2.9"/>
<ellipse fill="#ffd800" cx="2368.9" cy="754.7" rx="2.2" ry="1.7"/>
<ellipse fill="#ffd800" cx="2363.6" cy="761.2" rx="1.7" ry="1.9" transform="rotate(20 2363.6 761.2)"/>
<path fill="#ffd800" d="M2331.6 777.4C2332.6 776.9 2336.1 777.7 2337.2 778.4C2338.3 779.0 2338.6 780.5 2338.0 781.1C2337.3 781.8 2334.6 782.5 2333.5 782.5C2332.4 782.6 2331.6 782.3 2331.3 781.5C2331.0 780.6 2330.6 777.9 2331.6 777.4Z"/>
<path fill="#ff9000" d="M2332.9 778.2C2333.4 777.7 2336.2 778.3 2336.9 778.8C2337.6 779.2 2337.5 780.4 2336.9 780.8C2336.3 781.3 2334.2 782.1 2333.5 781.6C2332.8 781.2 2332.3 778.6 2332.9 778.2Z"/>
<path fill="#ee0000" d="M2333.5 779.0C2334.0 778.6 2336.1 778.7 2336.6 779.0C2337.0 779.2 2336.8 780.2 2336.3 780.5C2335.8 780.9 2333.9 781.3 2333.5 781.0C2333.0 780.8 2333.0 779.3 2333.5 779.0Z"/>
<ellipse fill="#0a8a18" cx="2456.1" cy="776.4" rx="1.4" ry="1.7"/>
<ellipse fill="#0a8a18" cx="2128.4" cy="785.4" rx="1.9" ry="2.2"/>
<ellipse fill="#0a8a18" cx="2183.2" cy="758.1" rx="2.2" ry="1.9"/>
<ellipse fill="#ffd800" cx="2252.3" cy="756.8" rx="1.9" ry="3.1" transform="rotate(15 2252.3 756.8)"/>
</g>
</g>
<g filter="url(#b)">
<ellipse fill="#56bac8" cx="2502.9" cy="522.7" rx="3.4" ry="1.1" transform="rotate(30 2502.9 522.7)"/>
<ellipse fill="#12c030" cx="2502.2" cy="522.7" rx="1.7" ry="0.6" transform="rotate(30 2502.2 522.7)"/>
<ellipse fill="#5f86cc" cx="2505.0" cy="524.0" rx="1.1" ry="0.7" transform="rotate(30 2505.0 524.0)"/>
<ellipse fill="#56bac8" cx="2513.4" cy="528.4" rx="0.6" ry="0.6"/>
<ellipse fill="#56bac8" cx="2509.0" cy="534.8" rx="1.4" ry="0.7" transform="rotate(42 2509.0 534.8)"/>
<ellipse fill="#12c030" cx="2503.1" cy="541.4" rx="2.2" ry="0.9" transform="rotate(42 2503.1 541.4)"/>
<ellipse fill="#12c030" cx="2499.7" cy="544.2" rx="3.0" ry="0.7" transform="rotate(35 2499.7 544.2)"/>
<ellipse fill="#5f86cc" cx="2505.3" cy="544.8" rx="1.9" ry="0.7" transform="rotate(42 2505.3 544.8)"/>
<ellipse fill="#12c030" cx="2486.6" cy="545.4" rx="2.2" ry="0.6" transform="rotate(25 2486.6 545.4)"/>
<ellipse fill="#12c030" cx="2490.4" cy="545.7" rx="1.6" ry="0.6" transform="rotate(10 2490.4 545.7)"/>
<ellipse fill="#5f86cc" cx="2487.3" cy="542.3" rx="1.7" ry="0.9" transform="rotate(30 2487.3 542.3)"/>
<ellipse fill="#ff9000" cx="2487.9" cy="555.5" rx="0.9" ry="0.6" transform="rotate(20 2487.9 555.5)"/>
<ellipse fill="#5f86cc" cx="2482.3" cy="554.7" rx="1.1" ry="3.1" transform="rotate(-25 2482.3 554.7)"/>
<ellipse fill="#12c030" cx="2476.7" cy="565.0" rx="3.1" ry="1.2" transform="rotate(18 2476.7 565.0)"/>
<ellipse fill="#5f86cc" cx="2474.8" cy="564.7" rx="0.9" ry="1.9" transform="rotate(-30 2474.8 564.7)"/>
<ellipse fill="#12c030" cx="2517.4" cy="564.0" rx="2.2" ry="0.6" transform="rotate(-25 2517.4 564.0)"/>
<ellipse fill="#12c030" cx="2518.9" cy="563.1" rx="0.6" ry="1.9" transform="rotate(-20 2518.9 563.1)"/>
<ellipse fill="#0a8a18" cx="2496.0" cy="585.9" rx="1.2" ry="1.9" transform="rotate(-30 2496.0 585.9)"/>
<ellipse fill="#0a8a18" cx="2491.5" cy="588.7" rx="1.1" ry="0.6"/>
<ellipse fill="#5f86cc" cx="2498.1" cy="586.2" rx="0.6" ry="3.1" transform="rotate(-35 2498.1 586.2)"/>
<ellipse fill="#5f86cc" cx="2493.5" cy="586.8" rx="0.6" ry="2.5" transform="rotate(-35 2493.5 586.8)"/>
<ellipse fill="#ff9000" cx="2509.5" cy="586.3" rx="1.1" ry="0.6" transform="rotate(25 2509.5 586.3)"/>
<ellipse fill="#56bac8" cx="2499.1" cy="603.0" rx="0.9" ry="0.9"/>
<ellipse fill="#0a8a18" cx="2472.2" cy="598.3" rx="0.9" ry="0.7"/>
<ellipse fill="#5f86cc" cx="2470.5" cy="601.7" rx="1.9" ry="0.6" transform="rotate(-35 2470.5 601.7)"/>
<ellipse fill="#12c030" cx="2460.7" cy="607.3" rx="1.4" ry="0.7" transform="rotate(40 2460.7 607.3)"/>
<ellipse fill="#0a8a18" cx="2459.0" cy="621.3" rx="1.5" ry="1.1" transform="rotate(25 2459.0 621.3)"/>
<ellipse fill="#56bac8" cx="2451.2" cy="622.7" rx="1.1" ry="0.6"/>
<ellipse fill="#56bac8" cx="2495.8" cy="627.0" rx="0.9" ry="1.0" transform="rotate(-20 2495.8 627.0)"/>
<ellipse fill="#56bac8" cx="2498.1" cy="626.1" rx="0.6" ry="1.0" transform="rotate(-40 2498.1 626.1)"/>
<ellipse fill="#5f86cc" cx="2556.4" cy="628.4" rx="0.6" ry="0.6"/>
<ellipse fill="#5f86cc" cx="2576.4" cy="610.7" rx="0.7" ry="2.5" transform="rotate(-28 2576.4 610.7)"/>
<ellipse fill="#56bac8" cx="2579.1" cy="607.3" rx="0.7" ry="2.5" transform="rotate(-12 2579.1 607.3)"/>
<ellipse fill="#56bac8" cx="2576.7" cy="611.1" rx="0.6" ry="1.2" transform="rotate(-28 2576.7 611.1)"/>
<ellipse fill="#5f86cc" cx="2482.3" cy="637.8" rx="0.6" ry="3.7" transform="rotate(-30 2482.3 637.8)"/>
<ellipse fill="#ff9000" cx="2474.5" cy="639.0" rx="1.2" ry="0.7"/>
<ellipse fill="#ff9000" cx="2491.5" cy="636.2" rx="0.9" ry="0.6"/>
<ellipse fill="#56bac8" cx="2527.0" cy="637.8" rx="0.9" ry="1.6" transform="rotate(-25 2527.0 637.8)"/>
<ellipse fill="#56bac8" cx="2520.5" cy="643.0" rx="0.6" ry="1.0" transform="rotate(-10 2520.5 643.0)"/>
<ellipse fill="#5f86cc" cx="2517.7" cy="640.6" rx="1.6" ry="0.6" transform="rotate(35 2517.7 640.6)"/>
<ellipse fill="#12c030" cx="2464.6" cy="646.6" rx="0.7" ry="0.7"/>
<ellipse fill="#5f86cc" cx="2468.0" cy="645.7" rx="0.9" ry="1.9" transform="rotate(10 2468.0 645.7)"/>
<ellipse fill="#5f86cc" cx="2466.5" cy="655.8" rx="1.6" ry="0.6" transform="rotate(-25 2466.5 655.8)"/>
<ellipse fill="#5f86cc" cx="2581.2" cy="643.5" rx="0.7" ry="4.5" transform="rotate(-20 2581.2 643.5)"/>
<ellipse fill="#56bac8" cx="2581.2" cy="644.0" rx="0.6" ry="1.9" transform="rotate(-20 2581.2 644.0)"/>
<ellipse fill="#12c030" cx="2416.2" cy="649.8" rx="1.3" ry="0.9"/>
<ellipse fill="#12c030" cx="2335.7" cy="664.6" rx="2.0" ry="1.2" transform="rotate(-30 2335.7 664.6)"/>
<ellipse fill="#12c030" cx="2327.2" cy="673.2" rx="1.2" ry="1.2"/>
<ellipse fill="#5f86cc" cx="2376.0" cy="659.4" rx="2.0" ry="0.6"/>
<ellipse fill="#5f86cc" cx="2360.8" cy="669.6" rx="2.0" ry="0.7" transform="rotate(30 2360.8 669.6)"/>
<ellipse fill="#0a8a18" cx="2367.4" cy="656.7" rx="2.0" ry="0.9" transform="rotate(-25 2367.4 656.7)"/>
<ellipse fill="#0a8a18" cx="2360.2" cy="665.6" rx="1.6" ry="0.9" transform="rotate(30 2360.2 665.6)"/>
<ellipse fill="#0a8a18" cx="2398.8" cy="669.6" rx="4.0" ry="1.1" transform="rotate(40 2398.8 669.6)"/>
<ellipse fill="#0a8a18" cx="2378.0" cy="656.4" rx="0.9" ry="2.6" transform="rotate(-30 2378.0 656.4)"/>
<ellipse fill="#0a8a18" cx="2409.0" cy="663.0" rx="1.2" ry="3.3" transform="rotate(-20 2409.0 663.0)"/>
<ellipse fill="#0a8a18" cx="2402.4" cy="658.4" rx="2.6" ry="0.8" transform="rotate(30 2402.4 658.4)"/>
<ellipse fill="#0a8a18" cx="2356.2" cy="661.0" rx="2.6" ry="0.7" transform="rotate(-25 2356.2 661.0)"/>
<ellipse fill="#0a8a18" cx="2392.5" cy="649.8" rx="2.6" ry="0.7" transform="rotate(-15 2392.5 649.8)"/>
<ellipse fill="#0a8a18" cx="2382.6" cy="672.2" rx="2.0" ry="0.7" transform="rotate(35 2382.6 672.2)"/>
<ellipse fill="#0a8a18" cx="2429.4" cy="667.0" rx="2.0" ry="0.7" transform="rotate(30 2429.4 667.0)"/>
<ellipse fill="#ffd800" cx="2376.0" cy="672.2" rx="3.0" ry="0.8" transform="rotate(30 2376.0 672.2)"/>
<ellipse fill="#ffd800" cx="2377.3" cy="674.2" rx="2.0" ry="0.6" transform="rotate(35 2377.3 674.2)"/>
<ellipse fill="#ffd800" cx="2373.4" cy="669.6" rx="2.0" ry="0.6" transform="rotate(40 2373.4 669.6)"/>
<ellipse fill="#ffd800" cx="2414.9" cy="660.9" rx="0.9" ry="0.8"/>
<ellipse fill="#ffd800" cx="2347.9" cy="663.7" rx="1.1" ry="1.5" transform="rotate(20 2347.9 663.7)"/>
<ellipse fill="#ffd800" cx="2421.5" cy="662.7" rx="0.7" ry="0.9"/>
<ellipse fill="#ffd800" cx="2422.2" cy="669.6" rx="1.6" ry="0.6" transform="rotate(-35 2422.2 669.6)"/>
<ellipse fill="#ff9000" cx="2385.2" cy="651.2" rx="3.0" ry="0.8" transform="rotate(-5 2385.2 651.2)"/>
<ellipse fill="#ee0000" cx="2385.9" cy="651.1" rx="1.5" ry="0.6" transform="rotate(-5 2385.9 651.1)"/>
<ellipse fill="#ff9000" cx="2405.6" cy="648.6" rx="1.5" ry="0.8"/>
<ellipse fill="#ff9000" cx="2362.8" cy="659.7" rx="2.0" ry="1.2"/>
<ellipse fill="#ee0000" cx="2363.1" cy="659.6" rx="1.1" ry="0.6"/>
<ellipse fill="#ee0000" cx="2372.4" cy="664.8" rx="0.9" ry="0.7" transform="rotate(40 2372.4 664.8)"/>
<ellipse fill="#ff9000" cx="2376.7" cy="667.0" rx="1.5" ry="0.7" transform="rotate(40 2376.7 667.0)"/>
<ellipse fill="#ee0000" cx="2395.8" cy="662.3" rx="0.7" ry="0.7"/>
<ellipse fill="#ee0000" cx="2402.5" cy="662.3" rx="0.6" ry="0.6"/>
<ellipse fill="#ff9000" cx="2416.2" cy="664.3" rx="0.7" ry="1.1"/>
<ellipse fill="#ff9000" cx="2429.8" cy="667.0" rx="0.9" ry="1.5"/>
<ellipse fill="#ff9000" cx="2434.1" cy="668.8" rx="2.0" ry="0.6"/>
<ellipse fill="#0a8a18" cx="2449.2" cy="653.1" rx="2.0" ry="1.1"/>
<ellipse fill="#12c030" cx="2464.8" cy="646.5" rx="0.7" ry="0.7"/>
<ellipse fill="#5f86cc" cx="2467.9" cy="645.8" rx="0.8" ry="1.8"/>
<ellipse fill="#5f86cc" cx="2466.9" cy="655.6" rx="1.3" ry="0.6" transform="rotate(-25 2466.9 655.6)"/>
<ellipse fill="#12c030" cx="2438.0" cy="659.0" rx="1.2" ry="2.2" transform="rotate(10 2438.0 659.0)"/>
<ellipse fill="#56bac8" cx="2434.1" cy="652.8" rx="2.0" ry="1.0" transform="rotate(-15 2434.1 652.8)"/>
<ellipse fill="#12c030" cx="2434.4" cy="652.8" rx="0.8" ry="0.6"/>
<ellipse fill="#56bac8" cx="2432.9" cy="656.7" rx="0.9" ry="0.9"/>
<ellipse fill="#ffd800" cx="2445.3" cy="664.0" rx="0.9" ry="0.9"/>
<ellipse fill="#ff9000" cx="2449.9" cy="670.3" rx="1.5" ry="0.8" transform="rotate(20 2449.9 670.3)"/>
<ellipse fill="#ffd800" cx="2444.1" cy="670.9" rx="0.9" ry="1.1"/>
<ellipse fill="#ff9000" cx="2452.5" cy="671.9" rx="1.3" ry="0.6" transform="rotate(20 2452.5 671.9)"/>
<ellipse fill="#ff9000" cx="2467.1" cy="671.2" rx="0.7" ry="0.8"/>
<ellipse fill="#12c030" cx="2464.6" cy="681.1" rx="1.2" ry="1.2"/>
<ellipse fill="#12c030" cx="2460.5" cy="690.1" rx="0.8" ry="0.9"/>
<ellipse fill="#ffd800" cx="2460.5" cy="689.9" rx="0.6" ry="0.6"/>
<ellipse fill="#5f86cc" cx="2460.1" cy="695.0" rx="0.9" ry="0.9"/>
<ellipse fill="#5f86cc" cx="2423.6" cy="708.2" rx="0.9" ry="0.9"/>
<ellipse fill="#5f86cc" cx="2411.8" cy="712.8" rx="1.1" ry="1.5" transform="rotate(-25 2411.8 712.8)"/>
<ellipse fill="#56bac8" cx="2412.0" cy="713.3" rx="0.6" ry="0.7"/>
<ellipse fill="#5f86cc" cx="2335.1" cy="682.8" rx="0.9" ry="3.3" transform="rotate(-15 2335.1 682.8)"/>
<ellipse fill="#5f86cc" cx="2336.4" cy="686.4" rx="1.6" ry="0.7"/>
<ellipse fill="#5f86cc" cx="2340.4" cy="686.9" rx="1.2" ry="2.0" transform="rotate(25 2340.4 686.9)"/>
<ellipse fill="#5f86cc" cx="2342.3" cy="682.1" rx="1.1" ry="0.8" transform="rotate(-40 2342.3 682.1)"/>
<ellipse fill="#5f86cc" cx="2337.7" cy="676.5" rx="0.7" ry="0.7"/>
<ellipse fill="#56bac8" cx="2349.6" cy="677.5" rx="1.5" ry="0.9" transform="rotate(-20 2349.6 677.5)"/>
<ellipse fill="#5f86cc" cx="2356.2" cy="680.2" rx="2.0" ry="0.7"/>
<ellipse fill="#5f86cc" cx="2358.8" cy="686.6" rx="4.6" ry="1.1" transform="rotate(-35 2358.8 686.6)"/>
<ellipse fill="#56bac8" cx="2360.2" cy="685.4" rx="2.0" ry="0.7" transform="rotate(-35 2360.2 685.4)"/>
<ellipse fill="#0a8a18" cx="2369.4" cy="689.7" rx="1.8" ry="0.8"/>
<ellipse fill="#ffd800" cx="2389.2" cy="686.2" rx="0.7" ry="0.7"/>
<ellipse fill="#ffd800" cx="2396.1" cy="688.5" rx="1.1" ry="1.5" transform="rotate(10 2396.1 688.5)"/>
<ellipse fill="#12c030" cx="2360.8" cy="702.6" rx="3.0" ry="1.1" transform="rotate(-15 2360.8 702.6)"/>
<ellipse fill="#12c030" cx="2352.9" cy="704.6" rx="2.0" ry="0.9" transform="rotate(30 2352.9 704.6)"/>
<ellipse fill="#5f86cc" cx="2371.4" cy="702.3" rx="0.6" ry="2.0"/>
<ellipse fill="#12c030" cx="2379.3" cy="701.9" rx="0.7" ry="1.7"/>
<ellipse fill="#5f86cc" cx="2331.0" cy="704.6" rx="1.1" ry="0.6"/>
<ellipse fill="#5f86cc" cx="2348.6" cy="694.3" rx="0.7" ry="0.7"/>
<ellipse fill="#5f86cc" cx="2388.5" cy="693.4" rx="0.6" ry="0.6"/>
<ellipse fill="#5f86cc" cx="2410.3" cy="688.4" rx="0.6" ry="0.6"/>
<ellipse fill="#5f86cc" cx="2411.6" cy="684.4" rx="0.6" ry="0.6"/>
<ellipse fill="#56bac8" cx="2347.0" cy="645.5" rx="1.1" ry="0.6"/>
<ellipse fill="#56bac8" cx="2350.3" cy="652.1" rx="1.2" ry="1.5" transform="rotate(20 2350.3 652.1)"/>
<ellipse fill="#5f86cc" cx="2345.6" cy="654.1" rx="2.6" ry="0.7" transform="rotate(-35 2345.6 654.1)"/>
<ellipse fill="#12c030" cx="2357.8" cy="649.3" rx="2.2" ry="0.8" transform="rotate(-15 2357.8 649.3)"/>
<ellipse fill="#5f86cc" cx="2395.5" cy="630.5" rx="0.8" ry="0.6"/>
<ellipse fill="#5f86cc" cx="2428.8" cy="632.6" rx="2.0" ry="0.7" transform="rotate(-25 2428.8 632.6)"/>
<ellipse fill="#5f86cc" cx="2433.4" cy="630.3" rx="0.9" ry="0.6"/>
<ellipse fill="#5f86cc" cx="2422.5" cy="630.5" rx="0.7" ry="0.6"/>
<ellipse fill="#ffd800" cx="2477.0" cy="639.2" rx="3.3" ry="1.2" transform="rotate(-10 2477.0 639.2)"/>
<ellipse fill="#ff9000" cx="2475.0" cy="639.2" rx="1.2" ry="0.6"/>
<ellipse fill="#ff9000" cx="2538.5" cy="666.6" rx="0.9" ry="0.7"/>
<ellipse fill="#0a8a18" cx="2546.9" cy="669.9" rx="1.6" ry="1.1"/>
<ellipse fill="#12c030" cx="2529.8" cy="662.7" rx="1.1" ry="1.1"/>
<ellipse fill="#12c030" cx="2536.0" cy="655.5" rx="1.1" ry="1.4" transform="rotate(-30 2536.0 655.5)"/>
<ellipse fill="#56bac8" cx="2551.9" cy="661.2" rx="1.0" ry="0.7" transform="rotate(30 2551.9 661.2)"/>
<ellipse fill="#12c030" cx="2553.4" cy="672.5" rx="0.6" ry="0.6"/>
<ellipse fill="#12c030" cx="2499.5" cy="665.4" rx="0.6" ry="0.6"/>
<ellipse fill="#56bac8" cx="2501.4" cy="669.5" rx="0.6" ry="0.6"/>
<ellipse fill="#12c030" cx="2505.2" cy="679.3" rx="1.1" ry="0.9"/>
<ellipse fill="#56bac8" cx="2498.0" cy="685.7" rx="1.0" ry="2.2" transform="rotate(28 2498.0 685.7)"/>
<ellipse fill="#12c030" cx="2497.8" cy="686.0" rx="0.6" ry="1.0" transform="rotate(28 2497.8 686.0)"/>
<ellipse fill="#5f86cc" cx="2466.5" cy="655.9" rx="1.6" ry="0.6" transform="rotate(-25 2466.5 655.9)"/>
<ellipse fill="#ffd800" cx="2452.8" cy="729.5" rx="1.2" ry="0.7"/>
<ellipse fill="#56bac8" cx="2331.5" cy="585.5" rx="0.6" ry="0.6"/>
<ellipse fill="#12c030" cx="2331.0" cy="592.0" rx="2.5" ry="0.7" transform="rotate(-35 2331.0 592.0)"/>
<ellipse fill="#56bac8" cx="2332.7" cy="590.6" rx="0.6" ry="0.6"/>
<ellipse fill="#12c030" cx="2320.0" cy="598.0" rx="1.4" ry="0.6" transform="rotate(-40 2320.0 598.0)"/>
<ellipse fill="#5f86cc" cx="2316.4" cy="601.5" rx="0.6" ry="0.6"/>
<ellipse fill="#12c030" cx="2308.3" cy="606.9" rx="3.0" ry="0.7" transform="rotate(-40 2308.3 606.9)"/>
<ellipse fill="#56bac8" cx="2310.0" cy="605.0" rx="0.9" ry="0.6" transform="rotate(-40 2310.0 605.0)"/>
<ellipse fill="#5f86cc" cx="2306.9" cy="619.9" rx="1.4" ry="0.6" transform="rotate(-40 2306.9 619.9)"/>
<ellipse fill="#5f86cc" cx="2390.9" cy="623.5" rx="1.0" ry="0.6"/>
<ellipse fill="#ff9000" cx="2429.5" cy="603.7" rx="0.6" ry="0.6"/>
<ellipse fill="#5f86cc" cx="2432.9" cy="602.2" rx="0.6" ry="3.1" transform="rotate(40 2432.9 602.2)"/>
<ellipse fill="#5f86cc" cx="2436.6" cy="599.8" rx="0.6" ry="1.9" transform="rotate(40 2436.6 599.8)"/>
<ellipse fill="#56bac8" cx="2442.5" cy="592.8" rx="2.2" ry="1.0" transform="rotate(15 2442.5 592.8)"/>
<ellipse fill="#12c030" cx="2433.2" cy="616.3" rx="1.6" ry="1.1"/>
<ellipse fill="#5f86cc" cx="2435.7" cy="614.7" rx="0.6" ry="2.2" transform="rotate(10 2435.7 614.7)"/>
<ellipse fill="#0a8a18" cx="2434.2" cy="624.3" rx="1.5" ry="1.2"/>
<ellipse fill="#56bac8" cx="2430.4" cy="625.2" rx="1.0" ry="0.7"/>
<ellipse fill="#12c030" cx="2444.0" cy="624.9" rx="4.3" ry="0.9" transform="rotate(-30 2444.0 624.9)"/>
<ellipse fill="#12c030" cx="2439.1" cy="627.2" rx="1.9" ry="1.1"/>
<ellipse fill="#56bac8" cx="2441.6" cy="626.5" rx="3.1" ry="0.6" transform="rotate(-30 2441.6 626.5)"/>
<ellipse fill="#12c030" cx="2445.9" cy="623.9" rx="1.9" ry="0.7" transform="rotate(-10 2445.9 623.9)"/>
<ellipse fill="#12c030" cx="2422.4" cy="628.9" rx="2.5" ry="1.1" transform="rotate(10 2422.4 628.9)"/>
<ellipse fill="#56bac8" cx="2422.3" cy="630.1" rx="0.7" ry="0.9"/>
<ellipse fill="#5f86cc" cx="2428.8" cy="632.4" rx="2.2" ry="0.7" transform="rotate(-25 2428.8 632.4)"/>
<ellipse fill="#5f86cc" cx="2433.2" cy="629.9" rx="0.6" ry="1.2" transform="rotate(-30 2433.2 629.9)"/>
<ellipse fill="#12c030" cx="2433.0" cy="629.6" rx="0.6" ry="0.6" transform="rotate(-30 2433.0 629.6)"/>
<ellipse fill="#12c030" cx="2351.2" cy="712.8" rx="0.9" ry="0.7"/>
<ellipse fill="#12c030" cx="2353.4" cy="705.5" rx="3.1" ry="0.6" transform="rotate(-10 2353.4 705.5)"/>
<ellipse fill="#12c030" cx="2338.4" cy="714.3" rx="1.2" ry="0.9"/>
<ellipse fill="#000" cx="2342.8" cy="706.2" rx="2.1" ry="0.9" transform="rotate(-20 2342.8 706.2)"/>
<ellipse fill="#000" cx="2341.9" cy="714.3" rx="1.0" ry="1.9" transform="rotate(10 2341.9 714.3)"/>
<ellipse fill="#000" cx="2347.8" cy="710.3" rx="0.6" ry="1.4" transform="rotate(30 2347.8 710.3)"/>
<ellipse fill="#000" cx="2337.2" cy="708.7" rx="0.7" ry="1.2" transform="rotate(-30 2337.2 708.7)"/>
<ellipse fill="#000" cx="2352.1" cy="709.3" rx="1.4" ry="0.6" transform="rotate(20 2352.1 709.3)"/>
<ellipse fill="#56bac8" cx="2318.3" cy="719.9" rx="1.6" ry="1.1" transform="rotate(20 2318.3 719.9)"/>
<ellipse fill="#5f86cc" cx="2324.8" cy="721.1" rx="0.7" ry="0.6"/>
<ellipse fill="#5f86cc" cx="2330.7" cy="719.3" rx="0.6" ry="1.6" transform="rotate(-25 2330.7 719.3)"/>
<ellipse fill="#ffd800" cx="2333.5" cy="723.5" rx="0.6" ry="0.6"/>
<ellipse fill="#12c030" cx="2324.8" cy="726.1" rx="1.2" ry="0.9"/>
<ellipse fill="#12c030" cx="2327.4" cy="727.9" rx="1.4" ry="0.7" transform="rotate(-20 2327.4 727.9)"/>
<ellipse fill="#12c030" cx="2330.4" cy="723.6" rx="1.0" ry="1.0"/>
<ellipse fill="#12c030" cx="2349.8" cy="728.7" rx="0.7" ry="1.1" transform="rotate(15 2349.8 728.7)"/>
<ellipse fill="#5f86cc" cx="2338.9" cy="743.5" rx="1.0" ry="0.6"/>
<ellipse fill="#12c030" cx="2368.1" cy="735.1" rx="1.2" ry="4.0"/>
<ellipse fill="#0a8a18" cx="2375.1" cy="748.5" rx="1.9" ry="1.1" transform="rotate(35 2375.1 748.5)"/>
<ellipse fill="#ffd800" cx="2367.0" cy="753.0" rx="0.9" ry="0.7"/>
<ellipse fill="#ff9000" cx="2369.3" cy="749.2" rx="0.9" ry="0.9"/>
<ellipse fill="#ee0000" cx="2369.4" cy="749.2" rx="0.6" ry="0.6"/>
<ellipse fill="#ff9000" cx="2369.2" cy="754.7" rx="1.4" ry="0.9" transform="rotate(-30 2369.2 754.7)"/>
<ellipse fill="#ee0000" cx="2369.0" cy="754.8" rx="0.7" ry="0.6" transform="rotate(-30 2369.0 754.8)"/>
<ellipse fill="#ffd800" cx="2358.3" cy="766.5" rx="0.6" ry="0.6"/>
<ellipse fill="#0a8a18" cx="2355.8" cy="767.7" rx="1.4" ry="0.7" transform="rotate(-20 2355.8 767.7)"/>
<ellipse fill="#0a8a18" cx="2360.5" cy="764.0" rx="0.9" ry="1.2" transform="rotate(30 2360.5 764.0)"/>
<ellipse fill="#56bac8" cx="2389.9" cy="752.5" rx="1.1" ry="0.6"/>
<ellipse fill="#12c030" cx="2386.0" cy="767.4" rx="0.9" ry="1.9"/>
<ellipse fill="#12c030" cx="2347.8" cy="763.7" rx="3.1" ry="0.9" transform="rotate(-5 2347.8 763.7)"/>
<ellipse fill="#5f86cc" cx="2344.7" cy="764.6" rx="1.2" ry="0.7"/>
<ellipse fill="#ffd800" cx="2339.7" cy="765.4" rx="1.1" ry="0.7"/>
<ellipse fill="#ff9000" cx="2340.0" cy="765.2" rx="0.6" ry="0.6"/>
<ellipse fill="#ffd800" cx="2339.4" cy="767.4" rx="0.7" ry="0.6"/>
<ellipse fill="#ffd800" cx="2336.0" cy="769.9" rx="1.0" ry="1.1"/>
<ellipse fill="#ff9000" cx="2336.0" cy="770.1" rx="0.6" ry="0.6"/>
<ellipse fill="#56bac8" cx="2411.6" cy="713.0" rx="0.9" ry="1.0"/>
<ellipse fill="#5f86cc" cx="2423.9" cy="708.1" rx="0.9" ry="0.7" transform="rotate(30 2423.9 708.1)"/>
<ellipse fill="#56bac8" cx="2413.6" cy="719.0" rx="2.5" ry="1.2"/>
<ellipse fill="#12c030" cx="2413.9" cy="719.2" rx="1.4" ry="0.6"/>
<ellipse fill="#ff9000" cx="2407.7" cy="724.6" rx="0.6" ry="0.6"/>
<ellipse fill="#ffd800" cx="2408.4" cy="725.6" rx="0.6" ry="0.7"/>
<ellipse fill="#56bac8" cx="2419.8" cy="736.1" rx="1.6" ry="0.9" transform="rotate(-20 2419.8 736.1)"/>
<ellipse fill="#12c030" cx="2419.9" cy="735.9" rx="0.7" ry="0.6" transform="rotate(-20 2419.9 735.9)"/>
<ellipse fill="#000" cx="2427.6" cy="737.6" rx="1.1" ry="0.6" transform="rotate(-30 2427.6 737.6)"/>
<ellipse fill="#000" cx="2431.9" cy="737.3" rx="0.6" ry="1.4" transform="rotate(10 2431.9 737.3)"/>
<ellipse fill="#000" cx="2430.1" cy="734.2" rx="0.6" ry="1.0" transform="rotate(20 2430.1 734.2)"/>
<ellipse fill="#12c030" cx="2432.9" cy="734.2" rx="1.0" ry="0.7"/>
<ellipse fill="#5f86cc" cx="2427.9" cy="730.2" rx="1.9" ry="0.6" transform="rotate(-35 2427.9 730.2)"/>
<ellipse fill="#5f86cc" cx="2435.0" cy="728.6" rx="0.9" ry="0.7"/>
<ellipse fill="#56bac8" cx="2446.5" cy="726.4" rx="1.4" ry="1.2"/>
<ellipse fill="#12c030" cx="2446.5" cy="726.4" rx="0.7" ry="0.6"/>
<ellipse fill="#5f86cc" cx="2447.5" cy="722.5" rx="0.6" ry="0.6"/>
<ellipse fill="#5f86cc" cx="2433.5" cy="745.4" rx="1.6" ry="1.0" transform="rotate(-30 2433.5 745.4)"/>
<ellipse fill="#5f86cc" cx="2437.5" cy="743.5" rx="0.6" ry="0.6"/>
<ellipse fill="#12c030" cx="2447.8" cy="742.9" rx="1.9" ry="0.6" transform="rotate(-30 2447.8 742.9)"/>
<ellipse fill="#56bac8" cx="2442.8" cy="775.8" rx="0.9" ry="0.9"/>
<ellipse fill="#12c030" cx="2434.7" cy="779.8" rx="1.4" ry="0.6" transform="rotate(-25 2434.7 779.8)"/>
<ellipse fill="#5f86cc" cx="2387.5" cy="780.5" rx="0.6" ry="0.6"/>
<ellipse fill="#12c030" cx="2382.5" cy="782.5" rx="1.6" ry="0.6"/>
<ellipse fill="#56bac8" cx="2381.9" cy="782.6" rx="1.9" ry="0.7"/>
<ellipse fill="#56bac8" cx="2352.1" cy="783.0" rx="3.7" ry="0.9" transform="rotate(5 2352.1 783.0)"/>
<ellipse fill="#0a8a18" cx="2333.8" cy="786.4" rx="0.7" ry="1.2"/>
<ellipse fill="#56bac8" cx="2337.2" cy="790.5" rx="3.7" ry="0.6" transform="rotate(50 2337.2 790.5)"/>
<ellipse fill="#12c030" cx="2336.6" cy="789.8" rx="1.9" ry="0.6" transform="rotate(50 2336.6 789.8)"/>
<ellipse fill="#12c030" cx="2338.4" cy="793.9" rx="2.5" ry="0.7" transform="rotate(10 2338.4 793.9)"/>
<ellipse fill="#5f86cc" cx="2328.4" cy="795.4" rx="0.6" ry="0.6"/>
<ellipse fill="#12c030" cx="2324.8" cy="797.9" rx="3.1" ry="0.6" transform="rotate(35 2324.8 797.9)"/>
<ellipse fill="#56bac8" cx="2344.3" cy="800.3" rx="1.6" ry="0.7" transform="rotate(20 2344.3 800.3)"/>
<ellipse fill="#12c030" cx="2344.7" cy="800.5" rx="0.9" ry="0.6" transform="rotate(20 2344.7 800.5)"/>
<ellipse fill="#12c030" cx="2334.4" cy="802.8" rx="1.6" ry="0.6" transform="rotate(40 2334.4 802.8)"/>
<ellipse fill="#56bac8" cx="2325.7" cy="805.4" rx="1.6" ry="0.9"/>
<ellipse fill="#56bac8" cx="2331.0" cy="807.1" rx="2.2" ry="0.6" transform="rotate(25 2331.0 807.1)"/>
<ellipse fill="#0a8a18" cx="2353.4" cy="814.6" rx="1.2" ry="0.9"/>
<ellipse fill="#0a8a18" cx="2347.1" cy="811.9" rx="1.9" ry="0.6" transform="rotate(15 2347.1 811.9)"/>
<ellipse fill="#12c030" cx="2378.5" cy="787.2" rx="1.5" ry="1.1" transform="rotate(-35 2378.5 787.2)"/>
<ellipse fill="#ffd800" cx="2378.5" cy="787.4" rx="0.6" ry="0.6"/>
<ellipse fill="#12c030" cx="2382.5" cy="782.5" rx="1.6" ry="0.6"/>
<ellipse fill="#5f86cc" cx="2387.4" cy="780.4" rx="0.6" ry="0.6"/>
<ellipse fill="#12c030" cx="2383.2" cy="802.3" rx="0.9" ry="0.9"/>
<ellipse fill="#12c030" cx="2404.9" cy="803.5" rx="1.0" ry="0.6"/>
<ellipse fill="#12c030" cx="2416.7" cy="805.2" rx="1.9" ry="0.9"/>
<ellipse fill="#12c030" cx="2402.3" cy="810.5" rx="3.1" ry="0.7" transform="rotate(25 2402.3 810.5)"/>
<ellipse fill="#56bac8" cx="2400.6" cy="809.4" rx="1.6" ry="0.6" transform="rotate(10 2400.6 809.4)"/>
<ellipse fill="#12c030" cx="2434.1" cy="805.9" rx="4.3" ry="0.7" transform="rotate(-12 2434.1 805.9)"/>
<ellipse fill="#56bac8" cx="2430.5" cy="807.1" rx="0.6" ry="1.1"/>
<ellipse fill="#12c030" cx="2434.7" cy="779.9" rx="1.6" ry="0.6" transform="rotate(-30 2434.7 779.9)"/>
<ellipse fill="#56bac8" cx="2442.8" cy="775.9" rx="0.9" ry="0.9"/>
<ellipse fill="#5f86cc" cx="2435.0" cy="728.7" rx="0.9" ry="0.9"/>
<ellipse fill="#12c030" cx="2446.5" cy="726.2" rx="0.6" ry="0.6"/>
<ellipse fill="#5f86cc" cx="2447.5" cy="722.5" rx="0.6" ry="0.6"/>
<ellipse fill="#5f86cc" cx="2437.5" cy="743.5" rx="0.6" ry="0.6"/>
<ellipse fill="#5f86cc" cx="2433.6" cy="745.5" rx="1.4" ry="1.1" transform="rotate(-30 2433.6 745.5)"/>
<ellipse fill="#0a8a18" cx="2445.5" cy="736.3" rx="3.4" ry="1.2" transform="rotate(12 2445.5 736.3)"/>
<ellipse fill="#0a8a18" cx="2454.2" cy="738.9" rx="2.2" ry="0.7" transform="rotate(30 2454.2 738.9)"/>
<ellipse fill="#ffd800" cx="2452.5" cy="730.9" rx="0.7" ry="2.2"/>
<ellipse fill="#ffd800" cx="2453.3" cy="729.6" rx="0.6" ry="0.6"/>
<ellipse fill="#12c030" cx="2448.0" cy="742.7" rx="2.2" ry="0.7" transform="rotate(-40 2448.0 742.7)"/>
<ellipse fill="#56bac8" cx="2446.8" cy="743.9" rx="0.7" ry="0.6" transform="rotate(-40 2446.8 743.9)"/>
<ellipse fill="#56bac8" cx="2464.5" cy="742.7" rx="2.8" ry="1.2" transform="rotate(15 2464.5 742.7)"/>
<ellipse fill="#5f86cc" cx="2469.3" cy="743.0" rx="0.9" ry="0.9"/>
<ellipse fill="#56bac8" cx="2508.4" cy="746.0" rx="0.6" ry="1.1"/>
<ellipse fill="#0a8a18" cx="2520.4" cy="753.9" rx="1.0" ry="1.2"/>
<ellipse fill="#ff9000" cx="2519.4" cy="754.0" rx="0.6" ry="0.6"/>
<ellipse fill="#5f86cc" cx="2522.3" cy="750.1" rx="0.6" ry="1.2" transform="rotate(10 2522.3 750.1)"/>
<ellipse fill="#5f86cc" cx="2521.3" cy="757.1" rx="0.6" ry="0.9"/>
<ellipse fill="#5f86cc" cx="2458.6" cy="765.5" rx="1.6" ry="0.6"/>
<ellipse fill="#56bac8" cx="2442.9" cy="775.8" rx="0.9" ry="0.9"/>
<ellipse fill="#12c030" cx="2434.7" cy="779.9" rx="1.4" ry="0.6" transform="rotate(-25 2434.7 779.9)"/>
<ellipse fill="#ff9000" cx="2455.5" cy="774.5" rx="0.6" ry="0.6"/>
<ellipse fill="#12c030" cx="2461.8" cy="781.9" rx="1.4" ry="1.1"/>
<ellipse fill="#0a8a18" cx="2461.8" cy="781.9" rx="0.6" ry="0.6"/>
<ellipse fill="#12c030" cx="2471.5" cy="785.8" rx="1.7" ry="0.6" transform="rotate(-30 2471.5 785.8)"/>
<ellipse fill="#ffd800" cx="2450.0" cy="790.8" rx="2.2" ry="0.7" transform="rotate(-30 2450.0 790.8)"/>
<ellipse fill="#ffd800" cx="2447.4" cy="791.8" rx="0.6" ry="0.6"/>
<ellipse fill="#12c030" cx="2487.5" cy="789.3" rx="3.1" ry="0.8" transform="rotate(-40 2487.5 789.3)"/>
<ellipse fill="#56bac8" cx="2486.5" cy="795.9" rx="1.7" ry="0.6" transform="rotate(-30 2486.5 795.9)"/>
<ellipse fill="#56bac8" cx="2521.5" cy="772.3" rx="1.9" ry="0.6" transform="rotate(-40 2521.5 772.3)"/>
<ellipse fill="#0a8a18" cx="2532.8" cy="773.7" rx="1.5" ry="1.1" transform="rotate(-20 2532.8 773.7)"/>
<ellipse fill="#56bac8" cx="2101.5" cy="784.5" rx="0.6" ry="0.6"/>
<ellipse fill="#56bac8" cx="2135.8" cy="785.0" rx="0.6" ry="3.1" transform="rotate(-20 2135.8 785.0)"/>
<ellipse fill="#56bac8" cx="2131.9" cy="765.8" rx="1.1" ry="2.5" transform="rotate(-30 2131.9 765.8)"/>
<ellipse fill="#12c030" cx="2140.5" cy="766.0" rx="1.2" ry="2.3" transform="rotate(-20 2140.5 766.0)"/>
<ellipse fill="#56bac8" cx="2185.1" cy="742.7" rx="0.9" ry="2.2" transform="rotate(-15 2185.1 742.7)"/>
<ellipse fill="#5f86cc" cx="2203.6" cy="756.4" rx="0.6" ry="0.6"/>
<ellipse fill="#5f86cc" cx="2219.5" cy="760.4" rx="0.6" ry="0.6"/>
<ellipse fill="#5f86cc" cx="2217.3" cy="737.3" rx="0.6" ry="1.4"/>
<ellipse fill="#5f86cc" cx="2216.2" cy="731.4" rx="1.1" ry="0.6" transform="rotate(20 2216.2 731.4)"/>
<ellipse fill="#12c030" cx="2234.8" cy="721.0" rx="0.8" ry="1.9"/>
<ellipse fill="#12c030" cx="2236.6" cy="719.4" rx="0.8" ry="2.3"/>
<ellipse fill="#56bac8" cx="2235.4" cy="715.9" rx="0.6" ry="1.1"/>
<ellipse fill="#5f86cc" cx="2247.4" cy="716.9" rx="0.6" ry="1.1"/>
<ellipse fill="#ff9000" cx="2252.4" cy="757.1" rx="0.9" ry="1.7" transform="rotate(15 2252.4 757.1)"/>
<ellipse fill="#0a8a18" cx="2254.8" cy="759.9" rx="1.4" ry="1.1"/>
<ellipse fill="#5f86cc" cx="2246.1" cy="759.0" rx="0.6" ry="3.1" transform="rotate(40 2246.1 759.0)"/>
<ellipse fill="#ffd800" cx="2264.3" cy="751.2" rx="0.8" ry="0.8"/>
<ellipse fill="#56bac8" cx="2269.5" cy="751.9" rx="0.6" ry="1.1"/>
<ellipse fill="#ffd800" cx="2276.5" cy="750.1" rx="1.4" ry="1.2"/>
<ellipse fill="#ff9000" cx="2276.7" cy="750.3" rx="0.7" ry="0.8"/>
<ellipse fill="#56bac8" cx="2282.4" cy="745.6" rx="0.6" ry="0.6"/>
<ellipse fill="#56bac8" cx="2203.5" cy="691.4" rx="0.6" ry="2.6"/>
<ellipse fill="#12c030" cx="2203.5" cy="691.4" rx="0.6" ry="1.9"/>
<ellipse fill="#56bac8" cx="2270.4" cy="631.9" rx="0.6" ry="1.0"/>
<ellipse fill="#0a8a18" cx="2271.0" cy="636.6" rx="0.7" ry="1.4"/>
<ellipse fill="#5f86cc" cx="2270.2" cy="639.4" rx="0.6" ry="0.6"/>
<ellipse fill="#56bac8" cx="2268.8" cy="638.5" rx="0.9" ry="0.6"/>
<ellipse fill="#5f86cc" cx="2271.5" cy="643.9" rx="0.6" ry="1.0"/>
<ellipse fill="#5f86cc" cx="2266.0" cy="646.4" rx="0.9" ry="3.9" transform="rotate(35 2266.0 646.4)"/>
<ellipse fill="#0a8a18" cx="2266.2" cy="646.0" rx="1.1" ry="1.0"/>
<ellipse fill="#56bac8" cx="2285.5" cy="651.1" rx="0.6" ry="1.0"/>
<ellipse fill="#12c030" cx="2285.5" cy="651.4" rx="0.6" ry="0.6"/>
<ellipse fill="#56bac8" cx="2277.6" cy="654.9" rx="1.2" ry="2.1"/>
<ellipse fill="#12c030" cx="2277.8" cy="654.5" rx="0.9" ry="1.4"/>
<ellipse fill="#56bac8" cx="2276.6" cy="656.6" rx="0.9" ry="0.6"/>
<ellipse fill="#56bac8" cx="2280.9" cy="666.0" rx="0.7" ry="2.0" transform="rotate(15 2280.9 666.0)"/>
<ellipse fill="#5f86cc" cx="2280.3" cy="667.3" rx="0.6" ry="0.6"/>
<ellipse fill="#5f86cc" cx="2308.9" cy="687.0" rx="0.9" ry="2.0" transform="rotate(10 2308.9 687.0)"/>
<ellipse fill="#5f86cc" cx="2306.5" cy="620.5" rx="0.6" ry="0.6"/>
</g>
</svg>
</body></html>
